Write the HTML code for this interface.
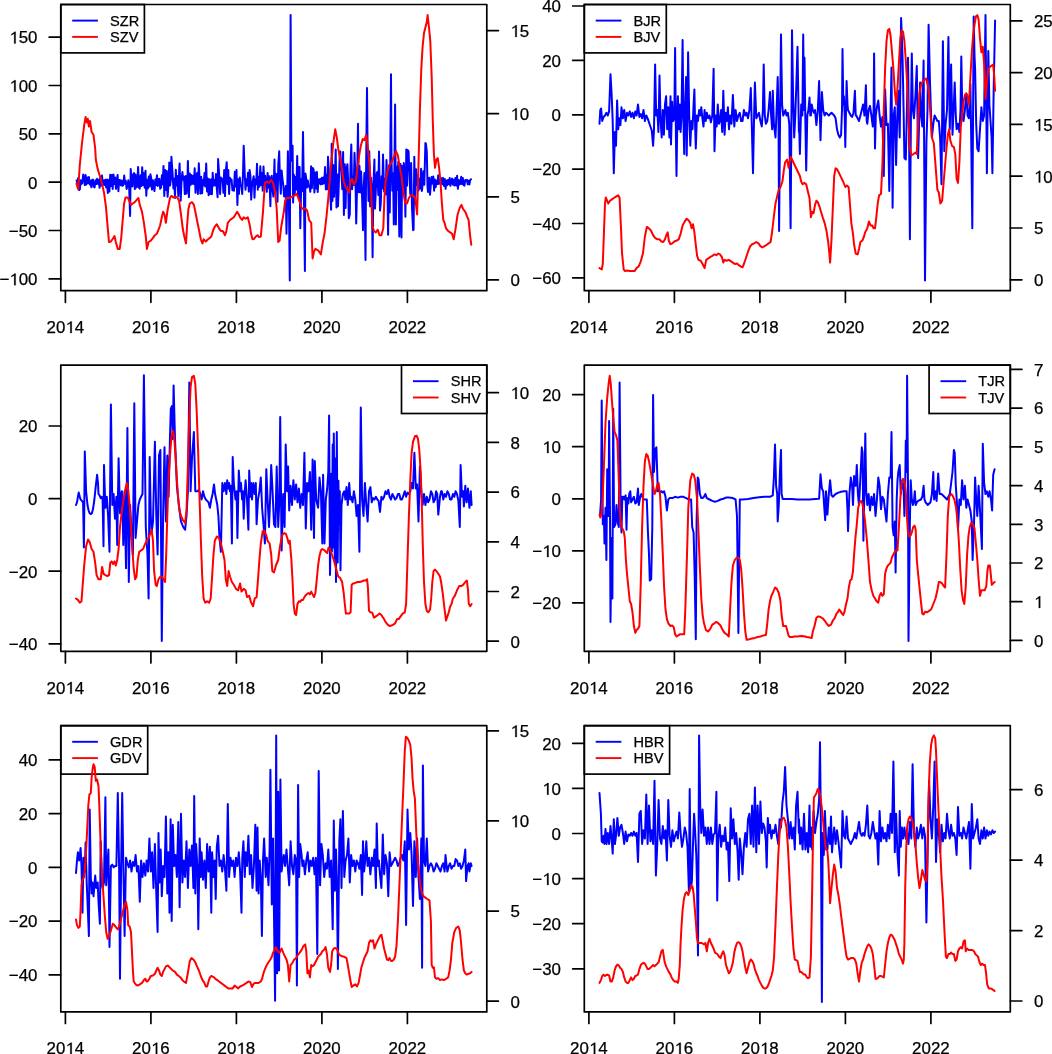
<!DOCTYPE html>
<html><head><meta charset="utf-8"><style>
html,body{margin:0;padding:0;background:#fff;}
body{width:1052px;height:1054px;overflow:hidden;}
svg{display:block;filter:blur(0.3px);font-family:"Liberation Sans",sans-serif;fill:#000;will-change:transform;}
text{fill:#000;stroke:#000;stroke-width:0.25px;}
</style></head><body>
<svg width="1052" height="1054" viewBox="0 0 1052 1054">
<rect width="1052" height="1054" fill="#fff"/>
<g><path d="M76.6,180.4 L77.4,183.9 L78.2,178.0 L79.1,190.1 L79.9,189.1 L80.7,180.3 L81.5,183.9 L82.3,183.1 L83.2,174.5 L84.0,177.3 L84.8,185.1 L85.6,175.0 L86.4,184.5 L87.3,177.4 L88.1,183.1 L88.9,177.1 L89.7,184.5 L90.5,180.8 L91.4,187.3 L92.2,179.9 L93.0,179.6 L93.8,186.8 L94.6,187.4 L95.5,180.3 L96.3,184.1 L97.1,178.8 L97.9,183.8 L98.7,179.7 L99.6,187.8 L100.4,177.1 L101.2,185.6 L102.0,175.5 L102.8,184.7 L103.7,180.5 L104.5,185.0 L105.3,179.7 L106.1,187.5 L106.9,179.6 L107.8,193.0 L108.6,180.1 L109.4,191.6 L110.2,174.7 L111.0,186.0 L111.9,175.0 L112.7,188.9 L113.5,174.4 L114.3,184.0 L115.1,177.5 L116.0,188.8 L116.8,180.8 L117.6,175.1 L118.4,191.2 L119.2,179.9 L120.1,180.2 L120.9,185.3 L121.7,180.4 L122.5,185.8 L123.3,185.0 L124.2,175.5 L125.0,183.8 L125.8,180.8 L126.6,189.0 L127.4,186.4 L128.3,180.3 L129.1,186.0 L130.1,215.9 L130.7,169.1 L131.5,179.9 L132.4,186.4 L133.2,174.2 L134.0,173.0 L134.8,189.1 L135.6,174.6 L136.5,187.5 L137.3,186.4 L138.1,166.9 L138.9,187.5 L139.7,188.6 L140.6,175.2 L141.4,186.0 L142.2,167.3 L143.0,185.0 L143.8,173.0 L144.7,187.7 L145.5,170.7 L146.3,195.8 L147.1,179.8 L147.9,188.4 L148.8,176.6 L149.6,186.6 L150.4,174.3 L151.2,178.1 L152.0,189.6 L152.9,180.2 L153.7,185.9 L154.5,191.0 L155.3,179.5 L156.1,185.2 L157.0,175.2 L157.8,186.0 L158.6,179.4 L159.4,178.8 L160.2,188.8 L161.1,187.5 L161.9,175.3 L162.7,184.3 L163.5,165.9 L164.3,196.0 L165.2,170.0 L166.0,190.0 L166.8,171.1 L167.6,196.8 L168.4,186.1 L169.3,162.4 L170.1,185.4 L170.9,179.2 L171.4,156.8 L172.5,172.9 L173.4,188.5 L174.2,178.8 L175.0,197.9 L175.8,169.7 L176.6,185.6 L177.4,175.9 L178.3,196.1 L179.1,171.5 L179.6,163.6 L180.7,200.7 L181.6,179.4 L182.4,172.0 L183.2,179.8 L184.0,176.6 L184.8,194.1 L185.7,176.1 L186.5,193.6 L187.3,185.9 L187.9,160.9 L188.9,197.1 L189.8,173.5 L190.6,185.0 L191.4,174.9 L192.2,183.8 L193.0,176.0 L193.8,183.9 L194.7,168.3 L195.5,192.7 L196.3,178.6 L197.1,173.0 L197.9,194.0 L198.8,163.2 L199.6,179.2 L200.4,193.6 L201.2,176.8 L202.1,193.3 L202.9,180.0 L203.7,185.2 L204.5,173.1 L205.3,186.5 L206.2,163.5 L207.0,191.5 L207.8,178.5 L208.6,195.3 L209.4,179.3 L210.2,194.0 L211.1,179.4 L211.9,194.2 L212.7,172.8 L213.5,185.7 L214.3,180.1 L215.2,185.4 L216.0,173.9 L216.8,188.5 L217.6,197.2 L218.1,159.0 L219.3,176.9 L220.1,194.0 L220.9,177.4 L221.7,179.4 L222.6,178.8 L223.4,192.8 L224.2,170.0 L225.0,196.1 L225.8,171.2 L226.7,162.3 L227.5,183.9 L228.3,170.0 L229.1,194.0 L229.9,177.8 L230.8,179.4 L231.6,179.6 L232.4,190.2 L233.2,186.7 L234.0,190.8 L234.8,171.8 L235.7,186.5 L236.5,170.0 L237.4,204.9 L238.1,179.2 L238.9,194.0 L239.8,177.6 L240.6,185.8 L241.4,186.0 L242.2,194.0 L243.1,170.3 L243.7,145.8 L244.7,173.4 L245.5,189.7 L246.3,179.2 L247.2,185.4 L248.0,172.8 L248.8,191.6 L249.6,170.0 L250.4,175.7 L251.2,199.6 L252.1,183.9 L252.9,180.2 L253.7,176.2 L254.5,197.8 L255.3,179.5 L256.2,184.3 L257.0,163.7 L257.8,189.7 L258.6,177.3 L259.4,186.8 L260.3,166.2 L261.1,185.0 L261.9,173.0 L262.7,190.7 L263.5,166.4 L264.4,185.1 L265.2,175.8 L266.0,184.2 L266.8,191.8 L267.6,173.0 L268.5,187.7 L269.3,176.2 L270.4,206.3 L270.9,179.9 L271.8,175.7 L272.6,190.7 L273.4,196.6 L274.5,159.5 L275.0,193.4 L275.9,173.7 L276.7,174.3 L277.5,201.8 L278.3,164.8 L279.2,151.3 L279.9,177.3 L280.8,193.7 L281.6,170.4 L282.4,178.6 L283.2,184.5 L284.1,196.3 L284.9,196.7 L285.7,186.0 L286.5,233.8 L287.3,189.2 L287.9,151.3 L289.0,207.3 L289.8,280.5 L290.6,15.1 L291.4,160.7 L292.6,145.8 L293.1,202.6 L293.9,174.8 L294.7,195.3 L295.5,177.0 L296.4,189.5 L297.2,156.1 L298.0,196.1 L298.8,167.0 L299.6,167.1 L300.3,228.3 L301.3,179.1 L302.1,191.2 L303.0,132.0 L303.7,177.7 L304.9,270.9 L305.4,173.4 L306.2,178.4 L307.0,187.5 L307.8,180.6 L308.6,186.5 L309.5,185.7 L310.3,191.8 L311.1,166.2 L311.9,188.2 L312.8,168.0 L313.6,169.6 L314.4,192.4 L315.2,172.6 L316.0,188.4 L316.9,171.9 L317.7,191.9 L318.5,179.6 L319.3,183.6 L320.1,179.0 L320.9,184.4 L321.8,177.8 L322.6,184.1 L323.4,177.4 L324.2,183.3 L325.1,166.9 L325.9,189.4 L326.7,174.7 L327.5,189.2 L328.0,156.8 L329.1,174.9 L330.0,190.4 L331.1,209.7 L331.7,143.7 L332.4,201.0 L333.2,165.0 L334.1,196.8 L334.9,177.6 L335.7,149.4 L336.5,207.4 L337.4,174.5 L338.0,206.3 L339.0,179.0 L339.8,152.4 L340.3,151.6 L341.4,171.3 L342.3,189.3 L343.1,152.0 L343.9,215.1 L344.8,164.2 L345.6,208.1 L346.4,170.4 L347.4,164.2 L348.0,177.4 L348.8,218.3 L349.8,214.5 L350.5,166.4 L351.3,144.4 L352.1,189.3 L352.9,176.6 L353.8,185.1 L354.5,152.8 L355.4,174.1 L356.2,223.4 L357.0,190.1 L358.0,123.8 L358.7,192.2 L359.5,166.1 L360.3,192.4 L361.1,171.4 L361.9,190.7 L363.0,230.2 L363.6,191.1 L364.4,172.9 L365.5,260.0 L366.1,167.8 L367.0,88.0 L367.7,161.8 L368.5,201.0 L369.3,151.2 L370.1,206.5 L371.0,177.7 L371.8,189.8 L372.6,257.2 L373.4,185.1 L374.4,159.6 L375.0,208.6 L375.9,188.7 L376.7,173.5 L377.5,171.8 L378.3,195.0 L379.0,151.6 L380.0,210.6 L380.8,203.3 L381.6,176.3 L382.4,188.2 L383.0,154.5 L384.1,191.4 L384.9,178.9 L385.7,194.4 L386.5,160.0 L387.4,184.9 L388.1,234.8 L389.0,165.3 L389.8,212.5 L391.0,74.3 L391.5,160.0 L392.3,190.7 L393.1,173.6 L393.8,224.5 L395.1,104.5 L395.9,224.5 L396.4,166.5 L397.2,190.1 L398.3,161.9 L398.8,201.3 L399.3,236.5 L400.5,164.0 L401.5,237.6 L402.1,165.9 L402.9,192.5 L403.8,163.0 L404.6,174.6 L405.4,216.8 L406.3,149.4 L407.0,185.8 L407.5,149.9 L408.6,151.6 L409.5,178.3 L410.3,194.3 L411.1,163.0 L412.0,207.7 L413.1,230.2 L413.6,229.6 L414.3,156.8 L415.2,203.3 L416.1,169.2 L416.9,185.1 L417.7,175.6 L418.5,190.5 L419.3,178.8 L420.2,188.5 L421.1,168.7 L421.8,191.0 L422.3,188.1 L423.4,171.3 L424.3,184.7 L425.4,143.0 L425.9,143.7 L426.8,151.6 L427.5,186.8 L428.0,192.0 L429.2,177.8 L430.0,194.7 L430.8,184.9 L431.6,176.9 L432.5,183.6 L433.3,176.5 L434.1,190.7 L434.9,179.4 L435.7,187.2 L436.6,180.7 L437.4,184.1 L438.2,175.3 L439.0,183.9 L439.8,179.8 L440.7,183.1 L441.5,178.2 L442.3,184.2 L443.1,178.1 L443.9,185.8 L444.8,179.1 L445.6,188.8 L446.4,180.6 L447.2,185.2 L448.0,179.9 L448.9,184.3 L449.7,177.9 L450.5,185.8 L451.3,180.4 L452.1,178.6 L453.0,184.7 L453.8,179.7 L454.6,185.5 L455.4,177.9 L456.2,185.4 L457.1,175.8 L457.9,188.8 L458.7,180.0 L459.5,184.4 L460.3,183.7 L461.2,176.8 L462.0,184.1 L462.8,177.9 L463.6,185.0 L464.4,185.6 L465.3,179.9 L466.1,180.8 L466.9,179.8 L467.7,184.2 L468.5,180.8 L469.4,184.6 L470.2,179.9 L471.0,179.2" fill="none" stroke="#0000ff" stroke-width="2.0" stroke-linejoin="round" stroke-linecap="round"/><rect x="60.8" y="4.5" width="83.6" height="48.4" fill="#fff" stroke="#000" stroke-width="1.7"/><line x1="72.2" y1="20.6" x2="97.9" y2="20.6" stroke="#0000ff" stroke-width="1.9"/><text x="110.0" y="25.6" font-size="14.6">SZR</text><line x1="72.2" y1="36.9" x2="97.9" y2="36.9" stroke="#ff0000" stroke-width="1.9"/><text x="110.0" y="41.9" font-size="14.6">SZV</text><path d="M76.5,183.7 L78.2,189.2 L79.8,165.0 L82.0,143.0 L84.2,125.1 L85.6,116.9 L86.7,122.4 L87.8,118.8 L88.9,126.5 L90.0,121.0 L91.6,132.0 L93.5,134.8 L95.2,148.5 L95.8,159.5 L97.7,169.1 L99.9,176.0 L101.8,182.9 L104.0,192.5 L105.9,206.3 L107.3,222.8 L109.0,242.0 L110.9,241.5 L112.8,238.7 L114.5,236.0 L115.8,242.0 L117.8,248.9 L119.7,248.9 L121.1,239.3 L122.7,220.0 L124.1,203.5 L125.5,197.5 L127.7,197.5 L129.3,200.8 L131.0,204.9 L132.6,203.5 L134.8,202.2 L136.5,200.2 L138.4,198.0 L139.8,204.9 L142.0,211.8 L143.9,222.8 L145.8,236.5 L146.9,248.9 L148.6,242.0 L150.8,240.7 L153.0,237.9 L154.9,235.2 L156.8,233.8 L158.5,229.7 L160.1,225.5 L161.8,217.3 L163.1,211.8 L164.5,214.5 L165.9,222.8 L167.3,211.8 L168.6,204.9 L170.0,198.0 L171.4,195.8 L173.3,197.5 L175.5,196.6 L177.7,198.0 L179.1,200.8 L181.0,214.5 L182.7,228.3 L184.3,236.5 L186.0,243.4 L187.1,225.5 L188.4,209.0 L189.8,203.5 L192.0,202.2 L193.9,204.9 L195.9,214.5 L197.5,222.8 L199.2,231.0 L200.8,239.3 L202.5,243.4 L203.6,239.3 L205.8,241.5 L208.0,239.3 L209.9,237.9 L211.3,236.5 L212.9,231.0 L214.6,226.9 L216.8,224.2 L219.0,228.3 L220.9,231.0 L222.8,231.0 L225.0,235.2 L226.4,231.0 L227.8,222.8 L230.0,220.0 L231.9,218.7 L233.8,217.3 L235.5,214.5 L237.1,211.8 L238.8,214.5 L240.1,217.3 L242.1,220.0 L243.7,217.3 L245.6,218.7 L247.8,217.3 L249.8,225.5 L251.1,233.8 L252.5,239.3 L254.2,238.7 L255.8,236.5 L257.5,235.2 L259.1,237.1 L260.8,236.5 L263.0,211.8 L264.9,182.9 L266.8,181.5 L269.0,182.9 L271.2,180.1 L273.1,182.9 L275.1,192.5 L276.7,209.0 L278.2,242.0 L279.6,240.7 L281.0,228.3 L282.4,220.0 L283.8,211.8 L285.1,200.8 L286.5,198.0 L289.2,198.0 L292.0,196.6 L294.8,195.3 L296.7,193.9 L298.3,198.0 L300.2,203.5 L301.6,207.7 L303.0,209.0 L305.2,208.5 L307.1,210.4 L309.1,220.0 L311.2,222.8 L312.6,258.5 L314.0,251.7 L315.4,248.9 L318.1,250.3 L320.9,254.4 L322.8,242.0 L324.5,233.8 L326.4,217.3 L328.3,198.0 L330.0,176.0 L331.9,156.8 L333.3,143.0 L335.2,129.3 L336.8,137.5 L338.2,148.5 L339.3,154.0 L341.0,162.3 L342.1,170.5 L343.7,181.5 L345.6,187.0 L347.6,189.8 L349.2,192.5 L350.3,181.5 L352.0,178.8 L353.9,184.3 L355.8,181.5 L357.5,167.8 L359.4,154.0 L360.8,145.8 L362.7,138.9 L364.3,140.3 L366.3,134.8 L367.9,148.5 L369.6,165.0 L371.2,192.5 L372.3,225.5 L374.0,231.0 L375.9,232.4 L377.8,229.7 L379.5,235.2 L381.4,235.2 L383.3,228.3 L384.4,198.0 L385.5,181.5 L387.7,170.5 L389.6,165.0 L391.6,162.3 L393.8,156.8 L396.0,151.3 L397.9,155.4 L399.3,165.0 L401.5,176.0 L403.4,192.5 L405.3,203.5 L407.0,203.5 L408.9,198.0 L410.8,195.3 L413.0,195.3 L415.2,198.0 L417.1,214.5 L418.5,165.0 L419.9,110.0 L421.3,68.8 L422.6,46.8 L424.0,33.0 L425.4,27.5 L426.8,22.0 L427.6,15.1 L429.0,27.5 L430.3,41.2 L431.7,77.0 L432.8,121.0 L433.9,154.0 L435.0,167.8 L436.4,159.5 L437.8,158.1 L439.1,167.8 L440.5,181.5 L441.9,203.5 L443.3,220.0 L444.6,222.8 L446.0,228.3 L448.2,231.0 L450.1,232.4 L452.1,233.8 L453.7,239.3 L455.6,228.3 L457.6,214.5 L459.8,207.7 L461.4,204.9 L463.1,209.0 L465.3,211.8 L467.5,217.3 L468.6,220.0 L470.2,236.5 L471.3,244.8" fill="none" stroke="#ff0000" stroke-width="2.0" stroke-linejoin="round" stroke-linecap="round"/><rect x="60.8" y="4.5" width="426.0" height="286.2" fill="none" stroke="#000" stroke-width="1.7" stroke-linejoin="round"/><line x1="65.4" y1="290.7" x2="65.4" y2="302.3" stroke="#000" stroke-width="1.7" stroke-linecap="round"/><text x="46.60" y="333.10" font-size="16.9">20 4</text><path d="M0.288,0 L0.376,0 L0.376,-0.688 L0.308,-0.688 L0.273,-0.649 L0.122,-0.552 L0.122,-0.481 L0.288,-0.581 Z" transform="translate(65.40,333.10) scale(16.9)" fill="#000" stroke="#000" stroke-width="0.0148"/><line x1="150.9" y1="290.7" x2="150.9" y2="302.3" stroke="#000" stroke-width="1.7" stroke-linecap="round"/><text x="132.10" y="333.10" font-size="16.9">20 6</text><path d="M0.288,0 L0.376,0 L0.376,-0.688 L0.308,-0.688 L0.273,-0.649 L0.122,-0.552 L0.122,-0.481 L0.288,-0.581 Z" transform="translate(150.90,333.10) scale(16.9)" fill="#000" stroke="#000" stroke-width="0.0148"/><line x1="236.4" y1="290.7" x2="236.4" y2="302.3" stroke="#000" stroke-width="1.7" stroke-linecap="round"/><text x="217.60" y="333.10" font-size="16.9">20 8</text><path d="M0.288,0 L0.376,0 L0.376,-0.688 L0.308,-0.688 L0.273,-0.649 L0.122,-0.552 L0.122,-0.481 L0.288,-0.581 Z" transform="translate(236.40,333.10) scale(16.9)" fill="#000" stroke="#000" stroke-width="0.0148"/><line x1="321.9" y1="290.7" x2="321.9" y2="302.3" stroke="#000" stroke-width="1.7" stroke-linecap="round"/><text x="303.10" y="333.10" font-size="16.9">2020</text><line x1="407.4" y1="290.7" x2="407.4" y2="302.3" stroke="#000" stroke-width="1.7" stroke-linecap="round"/><text x="388.60" y="333.10" font-size="16.9">2022</text><line x1="49.2" y1="278.9" x2="60.8" y2="278.9" stroke="#000" stroke-width="1.7" stroke-linecap="round"/><text x="-0.57" y="285.20" font-size="16.9">− 00</text><path d="M0.288,0 L0.376,0 L0.376,-0.688 L0.308,-0.688 L0.273,-0.649 L0.122,-0.552 L0.122,-0.481 L0.288,-0.581 Z" transform="translate(9.30,285.20) scale(16.9)" fill="#000" stroke="#000" stroke-width="0.0148"/><line x1="49.2" y1="230.5" x2="60.8" y2="230.5" stroke="#000" stroke-width="1.7" stroke-linecap="round"/><text x="8.83" y="236.85" font-size="16.9">−50</text><line x1="49.2" y1="182.2" x2="60.8" y2="182.2" stroke="#000" stroke-width="1.7" stroke-linecap="round"/><text x="28.10" y="188.50" font-size="16.9">0</text><line x1="49.2" y1="133.8" x2="60.8" y2="133.8" stroke="#000" stroke-width="1.7" stroke-linecap="round"/><text x="18.70" y="140.15" font-size="16.9">50</text><line x1="49.2" y1="85.5" x2="60.8" y2="85.5" stroke="#000" stroke-width="1.7" stroke-linecap="round"/><text x="9.30" y="91.80" font-size="16.9"> 00</text><path d="M0.288,0 L0.376,0 L0.376,-0.688 L0.308,-0.688 L0.273,-0.649 L0.122,-0.552 L0.122,-0.481 L0.288,-0.581 Z" transform="translate(9.30,91.80) scale(16.9)" fill="#000" stroke="#000" stroke-width="0.0148"/><line x1="49.2" y1="37.2" x2="60.8" y2="37.2" stroke="#000" stroke-width="1.7" stroke-linecap="round"/><text x="9.30" y="43.45" font-size="16.9"> 50</text><path d="M0.288,0 L0.376,0 L0.376,-0.688 L0.308,-0.688 L0.273,-0.649 L0.122,-0.552 L0.122,-0.481 L0.288,-0.581 Z" transform="translate(9.30,43.45) scale(16.9)" fill="#000" stroke="#000" stroke-width="0.0148"/><line x1="486.8" y1="279.9" x2="498.4" y2="279.9" stroke="#000" stroke-width="1.7" stroke-linecap="round"/><text x="510.40" y="286.20" font-size="16.9">0</text><line x1="486.8" y1="196.8" x2="498.4" y2="196.8" stroke="#000" stroke-width="1.7" stroke-linecap="round"/><text x="510.40" y="203.10" font-size="16.9">5</text><line x1="486.8" y1="113.7" x2="498.4" y2="113.7" stroke="#000" stroke-width="1.7" stroke-linecap="round"/><text x="510.40" y="120.00" font-size="16.9"> 0</text><path d="M0.288,0 L0.376,0 L0.376,-0.688 L0.308,-0.688 L0.273,-0.649 L0.122,-0.552 L0.122,-0.481 L0.288,-0.581 Z" transform="translate(510.40,120.00) scale(16.9)" fill="#000" stroke="#000" stroke-width="0.0148"/><line x1="486.8" y1="30.6" x2="498.4" y2="30.6" stroke="#000" stroke-width="1.7" stroke-linecap="round"/><text x="510.40" y="36.90" font-size="16.9"> 5</text><path d="M0.288,0 L0.376,0 L0.376,-0.688 L0.308,-0.688 L0.273,-0.649 L0.122,-0.552 L0.122,-0.481 L0.288,-0.581 Z" transform="translate(510.40,36.90) scale(16.9)" fill="#000" stroke="#000" stroke-width="0.0148"/></g>
<g><path d="M599.5,123.8 L600.3,110.0 L601.1,108.6 L602.2,121.0 L603.6,116.9 L605.0,115.5 L606.4,112.8 L607.8,115.5 L609.1,111.4 L610.5,74.3 L611.6,93.5 L612.7,121.0 L613.8,173.3 L614.9,132.0 L616.0,145.8 L617.1,100.4 L618.2,129.3 L619.3,118.3 L620.4,125.1 L621.5,107.3 L622.9,118.3 L624.2,110.0 L625.6,121.0 L627.0,112.8 L628.4,115.5 L629.8,111.4 L631.1,116.9 L632.5,112.8 L633.9,118.3 L635.3,111.4 L636.6,115.5 L638.0,104.5 L639.4,116.9 L640.8,114.1 L642.1,118.3 L643.5,110.0 L644.9,121.0 L646.3,115.5 L647.6,118.3 L649.0,122.4 L650.4,126.5 L651.8,130.6 L653.1,145.8 L654.0,129.3 L655.1,64.6 L656.2,115.5 L657.3,110.0 L658.4,132.0 L659.5,75.6 L660.6,121.0 L661.7,137.5 L662.8,110.0 L663.9,134.8 L665.0,104.5 L666.1,96.3 L667.2,129.3 L668.3,107.3 L669.4,137.5 L670.5,96.3 L671.0,144.4 L672.1,101.8 L673.2,121.0 L674.3,118.3 L675.1,48.1 L676.0,143.0 L676.5,176.0 L677.3,121.0 L677.9,96.3 L678.7,129.3 L679.8,104.5 L680.6,132.0 L681.5,115.5 L682.6,39.9 L683.4,118.3 L684.2,154.0 L685.0,110.0 L686.1,77.0 L686.7,155.4 L687.5,110.0 L688.1,52.3 L689.2,115.5 L690.3,145.8 L691.4,121.0 L692.5,129.3 L693.6,104.5 L694.4,89.4 L695.2,129.3 L695.8,148.5 L696.9,115.5 L698.0,121.0 L699.1,110.0 L700.2,115.5 L701.3,107.3 L702.4,118.3 L703.5,126.5 L704.6,110.0 L705.7,121.0 L706.8,112.8 L708.1,118.3 L709.5,115.5 L710.9,122.4 L712.3,115.5 L713.6,68.8 L714.5,151.3 L715.6,115.5 L716.7,126.5 L717.8,104.5 L718.9,123.8 L720.0,121.0 L721.1,110.0 L722.2,132.0 L723.3,90.8 L724.6,134.8 L725.7,112.8 L726.8,121.0 L727.9,107.3 L729.0,129.3 L730.1,115.5 L731.5,123.8 L732.9,94.9 L734.3,126.5 L735.6,110.0 L737.0,121.0 L738.4,115.5 L739.8,112.8 L741.1,121.0 L742.5,121.0 L743.9,110.0 L745.3,115.5 L746.6,112.8 L748.0,118.3 L749.4,110.0 L750.8,88.0 L751.9,129.3 L753.0,173.3 L754.1,115.5 L754.9,82.5 L756.3,118.3 L757.6,115.5 L759.0,112.8 L760.4,121.0 L761.8,126.5 L762.9,110.0 L763.7,64.6 L764.8,115.5 L765.9,123.8 L767.3,121.0 L768.6,110.0 L770.0,92.1 L771.1,115.5 L772.2,129.3 L772.8,90.8 L773.9,123.8 L775.5,137.5 L776.6,110.0 L777.7,77.0 L778.5,115.5 L779.1,231.0 L779.9,137.5 L781.0,34.4 L782.1,104.5 L783.2,115.5 L784.3,112.8 L785.4,110.0 L786.5,115.5 L787.9,112.8 L789.3,123.8 L790.6,228.3 L791.5,110.0 L792.0,30.2 L793.1,96.3 L794.2,137.5 L795.3,115.5 L796.4,82.5 L797.5,46.8 L798.9,132.0 L799.3,132.0 L799.9,154.0 L801.2,104.5 L802.4,115.5 L803.2,34.4 L804.0,110.0 L804.5,57.8 L805.4,123.8 L806.2,170.5 L807.3,115.5 L808.4,110.0 L809.5,97.6 L810.3,115.5 L810.9,115.5 L811.7,104.5 L812.8,110.0 L813.9,112.8 L815.0,110.0 L816.4,125.1 L817.8,110.0 L819.1,81.1 L820.5,140.3 L821.3,115.5 L821.9,92.1 L823.2,110.0 L824.6,115.5 L826.0,112.8 L827.4,114.1 L828.8,115.5 L830.1,114.1 L831.5,112.8 L832.9,114.1 L834.2,115.5 L835.6,118.3 L837.0,129.3 L838.4,134.8 L839.8,137.5 L841.1,134.8 L842.0,110.0 L842.5,49.0 L843.3,104.5 L843.9,96.3 L844.7,115.5 L845.3,147.1 L846.1,104.5 L846.6,81.1 L847.5,104.5 L848.0,110.0 L849.4,112.8 L850.8,115.5 L852.1,116.9 L853.5,112.8 L854.9,90.8 L855.7,115.5 L856.3,115.5 L857.6,118.3 L859.0,121.0 L860.4,115.5 L861.8,110.0 L863.1,104.5 L864.5,115.5 L865.9,85.3 L866.7,121.0 L867.3,123.8 L868.6,110.0 L870.0,105.9 L871.4,115.5 L872.8,126.5 L873.6,110.0 L874.1,53.6 L875.0,148.5 L875.8,115.5 L876.9,107.3 L878.3,100.4 L879.6,115.5 L881.0,126.5 L882.4,116.9 L883.8,176.0 L885.1,89.4 L886.5,125.1 L887.9,123.8 L889.3,191.1 L890.6,110.0 L891.5,67.4 L892.6,207.7 L893.7,115.5 L894.8,107.3 L896.1,165.0 L897.2,118.3 L898.3,90.8 L899.7,137.5 L901.1,17.9 L902.5,55.0 L903.6,110.0 L904.4,158.1 L905.8,159.5 L906.9,110.0 L908.0,57.8 L909.1,137.5 L909.9,239.3 L911.0,110.0 L911.8,53.6 L912.9,110.0 L914.0,118.3 L915.4,96.3 L916.8,66.0 L918.1,158.1 L919.5,110.0 L920.1,82.5 L921.2,115.5 L922.3,126.5 L923.6,60.5 L925.0,280.5 L926.4,143.0 L927.5,110.0 L928.6,24.8 L930.0,82.5 L931.1,115.5 L931.9,137.5 L933.3,123.8 L934.6,115.5 L936.0,118.3 L937.4,121.0 L938.8,121.0 L940.1,137.5 L941.5,184.3 L942.9,41.2 L944.3,151.3 L945.6,123.8 L947.0,110.0 L948.4,37.1 L949.8,129.3 L951.1,64.6 L952.5,134.8 L953.6,110.0 L954.7,82.5 L955.8,115.5 L956.6,129.3 L958.0,123.8 L959.4,132.0 L960.5,110.0 L961.3,56.4 L962.4,115.5 L963.5,121.0 L964.9,110.0 L966.3,93.5 L967.6,115.5 L969.0,118.3 L970.4,83.9 L971.2,137.5 L972.3,228.3 L973.7,16.5 L974.5,55.0 L975.1,68.8 L976.2,123.8 L977.3,148.5 L978.6,151.3 L980.0,129.3 L981.4,107.3 L982.8,121.0 L984.1,115.5 L985.5,15.1 L986.9,173.3 L988.3,50.9 L989.4,104.5 L990.5,121.0 L991.6,137.5 L992.4,173.3 L993.8,82.5 L995.1,20.6" fill="none" stroke="#0000ff" stroke-width="2.0" stroke-linejoin="round" stroke-linecap="round"/><rect x="584.3" y="4.5" width="82.0" height="48.4" fill="#fff" stroke="#000" stroke-width="1.7"/><line x1="595.7" y1="20.6" x2="621.4" y2="20.6" stroke="#0000ff" stroke-width="1.9"/><text x="633.5" y="25.6" font-size="14.6">BJR</text><line x1="595.7" y1="36.9" x2="621.4" y2="36.9" stroke="#ff0000" stroke-width="1.9"/><text x="633.5" y="41.9" font-size="14.6">BJV</text><path d="M599.5,268.1 L601.7,269.5 L602.8,264.0 L603.9,233.8 L605.0,203.5 L605.8,197.5 L607.2,200.8 L608.3,203.5 L610.0,200.8 L611.9,199.4 L613.8,198.0 L616.0,196.6 L618.2,195.3 L619.6,198.0 L621.0,228.3 L622.0,253.0 L623.7,269.5 L624.8,270.9 L627.0,270.4 L629.8,270.9 L632.5,270.9 L634.7,270.9 L636.6,268.1 L638.8,266.2 L640.8,261.3 L643.0,253.0 L644.9,236.5 L646.8,226.9 L649.0,228.3 L651.2,231.0 L653.1,235.2 L655.1,237.9 L657.3,239.3 L659.5,239.3 L661.4,241.5 L663.3,242.0 L665.0,239.3 L666.3,235.2 L667.7,232.4 L668.8,240.7 L670.5,244.2 L672.4,243.4 L674.3,241.5 L676.5,240.7 L678.7,239.3 L680.6,233.8 L682.6,225.5 L684.8,221.4 L686.7,218.7 L688.3,220.0 L690.3,222.8 L691.6,228.3 L693.0,224.2 L694.4,232.4 L695.8,244.8 L697.1,255.8 L698.5,259.9 L700.7,260.7 L702.6,264.0 L704.6,268.1 L706.2,259.9 L708.1,258.5 L710.1,257.1 L712.3,255.8 L714.5,254.4 L716.4,255.2 L718.3,253.6 L720.0,254.4 L721.9,257.1 L723.3,262.6 L724.6,259.9 L726.6,260.7 L728.8,259.9 L731.0,261.3 L732.9,262.6 L734.8,264.0 L737.0,263.5 L739.2,265.4 L741.1,266.8 L742.5,267.3 L743.9,264.0 L745.8,258.5 L748.0,251.7 L750.2,246.2 L752.1,244.2 L754.1,243.4 L756.3,242.0 L758.5,243.4 L760.4,246.2 L762.3,247.5 L764.5,246.2 L766.7,244.8 L768.6,243.4 L770.6,242.0 L772.2,231.0 L774.1,214.5 L775.5,203.5 L777.4,195.3 L778.8,189.8 L780.5,187.0 L782.4,181.5 L783.8,170.5 L785.1,162.3 L787.1,159.5 L788.7,167.8 L790.6,156.8 L792.0,159.5 L799.9,176.0 L801.2,181.5 L802.6,184.3 L804.5,182.9 L806.2,184.3 L808.1,192.5 L809.5,198.0 L810.9,217.3 L812.2,211.8 L813.6,213.2 L815.0,204.9 L816.4,200.8 L817.8,202.2 L819.4,206.3 L821.0,211.8 L822.7,217.3 L824.6,222.8 L826.5,231.0 L828.2,242.0 L829.3,253.0 L830.1,262.6 L831.5,239.3 L832.9,206.3 L834.2,176.0 L835.6,168.3 L837.0,169.1 L839.2,173.3 L841.1,177.4 L843.1,181.5 L845.3,187.0 L846.9,185.6 L848.6,187.0 L849.9,203.5 L851.3,222.8 L853.0,233.8 L854.1,244.8 L855.7,253.6 L857.6,254.4 L859.0,248.9 L860.4,242.0 L862.3,240.7 L864.0,236.5 L865.1,232.4 L867.3,228.3 L868.9,221.4 L870.6,225.5 L872.2,225.5 L873.6,228.3 L875.0,228.3 L876.3,217.3 L877.7,203.5 L879.1,195.3 L881.0,193.9 L882.4,165.0 L883.8,110.0 L885.1,68.8 L886.5,41.2 L887.9,30.2 L889.3,28.9 L890.6,35.8 L892.0,52.3 L893.4,68.8 L894.8,90.8 L896.1,104.5 L897.5,88.0 L898.9,63.3 L900.3,38.5 L901.6,30.2 L903.0,31.6 L904.4,41.2 L905.8,60.5 L907.1,82.5 L908.5,121.0 L909.9,148.5 L911.3,155.4 L913.5,154.0 L915.4,152.6 L916.8,154.0 L918.1,121.0 L919.5,93.5 L920.9,85.3 L922.8,81.1 L924.5,79.8 L926.1,78.4 L927.8,85.3 L929.1,96.3 L930.5,115.5 L931.9,137.5 L933.8,143.0 L935.5,165.0 L937.4,189.8 L938.8,192.5 L940.4,203.5 L942.1,200.8 L943.7,181.5 L945.1,165.0 L946.5,148.5 L947.8,134.8 L949.2,129.3 L950.3,140.3 L952.0,145.8 L953.9,147.1 L955.3,154.0 L956.6,178.8 L958.0,182.9 L959.4,162.3 L960.8,126.5 L962.1,115.5 L963.5,101.8 L964.9,94.9 L966.3,93.5 L967.6,96.3 L969.0,104.5 L970.4,77.0 L971.8,52.3 L973.1,35.8 L974.5,24.8 L975.9,16.5 L977.3,15.1 L978.6,19.2 L980.0,38.5 L981.4,52.3 L982.8,46.8 L984.1,63.3 L985.5,99.0 L986.9,82.5 L988.3,68.8 L989.6,67.4 L991.0,66.0 L993.2,64.6 L994.3,77.0 L995.1,90.8" fill="none" stroke="#ff0000" stroke-width="2.0" stroke-linejoin="round" stroke-linecap="round"/><rect x="584.3" y="4.5" width="426.0" height="286.2" fill="none" stroke="#000" stroke-width="1.7" stroke-linejoin="round"/><line x1="588.9" y1="290.7" x2="588.9" y2="302.3" stroke="#000" stroke-width="1.7" stroke-linecap="round"/><text x="570.10" y="333.10" font-size="16.9">20 4</text><path d="M0.288,0 L0.376,0 L0.376,-0.688 L0.308,-0.688 L0.273,-0.649 L0.122,-0.552 L0.122,-0.481 L0.288,-0.581 Z" transform="translate(588.90,333.10) scale(16.9)" fill="#000" stroke="#000" stroke-width="0.0148"/><line x1="674.4" y1="290.7" x2="674.4" y2="302.3" stroke="#000" stroke-width="1.7" stroke-linecap="round"/><text x="655.60" y="333.10" font-size="16.9">20 6</text><path d="M0.288,0 L0.376,0 L0.376,-0.688 L0.308,-0.688 L0.273,-0.649 L0.122,-0.552 L0.122,-0.481 L0.288,-0.581 Z" transform="translate(674.40,333.10) scale(16.9)" fill="#000" stroke="#000" stroke-width="0.0148"/><line x1="759.9" y1="290.7" x2="759.9" y2="302.3" stroke="#000" stroke-width="1.7" stroke-linecap="round"/><text x="741.10" y="333.10" font-size="16.9">20 8</text><path d="M0.288,0 L0.376,0 L0.376,-0.688 L0.308,-0.688 L0.273,-0.649 L0.122,-0.552 L0.122,-0.481 L0.288,-0.581 Z" transform="translate(759.90,333.10) scale(16.9)" fill="#000" stroke="#000" stroke-width="0.0148"/><line x1="845.4" y1="290.7" x2="845.4" y2="302.3" stroke="#000" stroke-width="1.7" stroke-linecap="round"/><text x="826.60" y="333.10" font-size="16.9">2020</text><line x1="930.9" y1="290.7" x2="930.9" y2="302.3" stroke="#000" stroke-width="1.7" stroke-linecap="round"/><text x="912.10" y="333.10" font-size="16.9">2022</text><line x1="572.7" y1="277.8" x2="584.3" y2="277.8" stroke="#000" stroke-width="1.7" stroke-linecap="round"/><text x="532.33" y="284.13" font-size="16.9">−60</text><line x1="572.7" y1="223.5" x2="584.3" y2="223.5" stroke="#000" stroke-width="1.7" stroke-linecap="round"/><text x="532.33" y="229.77" font-size="16.9">−40</text><line x1="572.7" y1="169.1" x2="584.3" y2="169.1" stroke="#000" stroke-width="1.7" stroke-linecap="round"/><text x="532.33" y="175.41" font-size="16.9">−20</text><line x1="572.7" y1="114.8" x2="584.3" y2="114.8" stroke="#000" stroke-width="1.7" stroke-linecap="round"/><text x="551.60" y="121.05" font-size="16.9">0</text><line x1="572.7" y1="60.4" x2="584.3" y2="60.4" stroke="#000" stroke-width="1.7" stroke-linecap="round"/><text x="542.20" y="66.69" font-size="16.9">20</text><line x1="572.7" y1="6.0" x2="584.3" y2="6.0" stroke="#000" stroke-width="1.7" stroke-linecap="round"/><text x="542.20" y="12.33" font-size="16.9">40</text><line x1="1010.3" y1="279.8" x2="1021.9" y2="279.8" stroke="#000" stroke-width="1.7" stroke-linecap="round"/><text x="1033.90" y="286.10" font-size="16.9">0</text><line x1="1010.3" y1="228.0" x2="1021.9" y2="228.0" stroke="#000" stroke-width="1.7" stroke-linecap="round"/><text x="1033.90" y="234.30" font-size="16.9">5</text><line x1="1010.3" y1="176.2" x2="1021.9" y2="176.2" stroke="#000" stroke-width="1.7" stroke-linecap="round"/><text x="1033.90" y="182.50" font-size="16.9"> 0</text><path d="M0.288,0 L0.376,0 L0.376,-0.688 L0.308,-0.688 L0.273,-0.649 L0.122,-0.552 L0.122,-0.481 L0.288,-0.581 Z" transform="translate(1033.90,182.50) scale(16.9)" fill="#000" stroke="#000" stroke-width="0.0148"/><line x1="1010.3" y1="124.4" x2="1021.9" y2="124.4" stroke="#000" stroke-width="1.7" stroke-linecap="round"/><text x="1033.90" y="130.70" font-size="16.9"> 5</text><path d="M0.288,0 L0.376,0 L0.376,-0.688 L0.308,-0.688 L0.273,-0.649 L0.122,-0.552 L0.122,-0.481 L0.288,-0.581 Z" transform="translate(1033.90,130.70) scale(16.9)" fill="#000" stroke="#000" stroke-width="0.0148"/><line x1="1010.3" y1="72.6" x2="1021.9" y2="72.6" stroke="#000" stroke-width="1.7" stroke-linecap="round"/><text x="1033.90" y="78.90" font-size="16.9">20</text><line x1="1010.3" y1="20.8" x2="1021.9" y2="20.8" stroke="#000" stroke-width="1.7" stroke-linecap="round"/><text x="1033.90" y="27.10" font-size="16.9">25</text></g>
<g><path d="M76.0,505.0 L77.0,502.3 L77.9,496.8 L78.7,492.6 L79.8,496.8 L80.6,499.5 L82.0,500.9 L83.1,502.3 L83.9,547.6 L84.8,451.4 L86.1,491.3 L87.5,505.0 L88.6,510.5 L89.7,513.3 L90.8,514.1 L91.9,513.3 L93.0,509.1 L94.4,499.5 L95.8,485.8 L97.1,474.8 L98.0,483.0 L98.5,494.0 L99.6,495.4 L100.7,498.1 L101.8,496.8 L102.6,499.5 L103.5,546.3 L104.0,465.1 L104.8,491.3 L105.4,507.8 L106.8,496.8 L108.1,516.0 L109.5,551.8 L110.9,404.6 L112.3,505.0 L113.6,494.0 L115.0,518.8 L116.4,496.8 L117.2,544.9 L118.6,458.3 L120.0,513.3 L121.1,494.0 L121.9,491.3 L122.7,516.0 L123.3,544.9 L124.6,491.3 L126.0,568.3 L127.4,428.0 L128.8,582.0 L130.1,505.0 L131.5,532.5 L132.9,554.5 L134.3,403.2 L135.6,538.0 L137.0,521.5 L138.4,505.0 L139.8,499.5 L141.1,496.8 L142.5,494.0 L143.9,375.2 L145.8,527.0 L147.5,554.5 L148.6,598.5 L149.7,456.9 L150.8,516.0 L151.6,532.5 L153.0,521.5 L154.9,441.8 L156.3,516.0 L157.6,554.5 L159.0,455.5 L160.4,450.0 L161.8,641.1 L163.1,516.0 L164.5,447.3 L165.9,521.5 L167.3,455.5 L168.6,496.8 L170.0,436.3 L170.8,408.8 L171.9,406.0 L172.8,439.0 L173.6,385.4 L175.0,439.0 L176.9,485.8 L178.8,505.0 L181.0,521.5 L183.2,527.0 L185.1,529.8 L186.5,516.0 L187.9,491.3 L189.3,382.6 L190.6,491.3 L192.0,458.3 L193.9,432.1 L195.3,491.3 L197.5,491.3 L198.9,489.9 L200.3,494.0 L201.6,499.5 L203.0,491.3 L204.4,496.8 L205.8,499.5 L207.1,500.9 L208.5,502.3 L209.9,507.8 L211.3,499.5 L212.6,494.0 L214.0,484.4 L215.1,494.0 L216.2,499.5 L217.3,505.0 L218.4,516.0 L219.5,538.0 L220.9,551.8 L222.3,483.0 L223.6,491.3 L225.0,483.0 L226.4,494.0 L227.2,480.3 L228.3,488.5 L229.1,483.0 L230.0,491.3 L230.8,485.8 L231.9,543.5 L232.7,456.9 L233.8,483.0 L234.6,491.3 L235.5,499.5 L236.6,491.3 L237.4,538.0 L238.8,470.6 L240.1,491.3 L241.0,483.0 L242.1,499.5 L242.9,491.3 L243.7,518.8 L244.8,491.3 L245.6,480.3 L247.0,499.5 L248.4,529.8 L249.2,470.6 L250.3,496.8 L251.1,483.0 L252.0,499.5 L253.3,483.0 L254.7,494.0 L255.8,483.0 L256.6,524.3 L258.0,499.5 L259.4,491.3 L260.8,477.5 L262.1,507.8 L263.5,524.3 L264.9,543.5 L266.3,469.3 L267.6,499.5 L269.0,527.0 L270.1,499.5 L271.2,465.1 L272.3,485.8 L274.0,524.3 L275.4,527.0 L276.7,466.5 L278.2,527.0 L279.4,499.5 L280.2,417.0 L281.6,550.4 L283.2,494.0 L284.6,527.0 L285.7,444.5 L287.1,491.3 L288.1,466.5 L289.2,510.5 L290.6,485.8 L292.0,505.0 L293.4,480.3 L294.8,499.5 L296.1,484.4 L297.5,502.3 L298.9,488.5 L300.2,507.8 L301.6,494.0 L303.0,505.0 L304.4,452.8 L305.8,528.4 L307.1,483.0 L308.5,491.3 L309.9,472.0 L311.2,529.8 L312.6,459.6 L314.0,538.0 L314.8,461.0 L316.2,499.5 L318.1,507.8 L319.5,477.5 L320.9,491.3 L322.3,543.5 L323.1,474.8 L324.5,543.5 L325.8,499.5 L327.2,488.5 L328.3,471.7 L329.1,415.6 L330.0,575.0 L330.5,545.3 L331.2,473.8 L331.9,551.4 L332.7,444.5 L333.3,547.6 L333.8,433.5 L334.8,561.6 L335.5,458.5 L336.0,582.0 L336.8,432.0 L337.7,562.5 L338.4,480.7 L339.1,524.1 L339.8,491.3 L340.5,570.2 L341.5,505.0 L342.9,494.0 L344.3,491.3 L345.4,499.5 L346.5,487.1 L347.8,505.0 L349.2,483.0 L350.3,499.5 L351.1,496.8 L352.5,502.3 L353.9,491.3 L355.3,499.5 L356.6,516.0 L358.0,505.0 L359.4,551.8 L360.8,407.4 L362.1,499.5 L363.5,516.0 L364.9,483.0 L366.3,505.0 L367.6,521.5 L369.0,491.3 L370.4,487.1 L371.8,502.3 L373.1,498.1 L374.5,499.5 L375.9,496.8 L377.3,499.5 L378.6,500.9 L380.0,511.9 L381.4,496.8 L382.8,499.5 L384.1,496.8 L385.5,491.3 L386.9,494.0 L388.3,489.9 L389.6,496.8 L391.0,499.5 L392.4,494.0 L393.8,496.8 L395.1,499.5 L396.5,498.1 L397.9,494.0 L399.3,494.0 L400.6,499.5 L402.0,499.5 L403.4,495.4 L404.8,491.3 L406.1,496.8 L407.5,492.6 L408.9,494.0 L410.3,491.3 L411.6,483.0 L413.0,488.5 L414.4,452.8 L415.8,488.5 L417.1,484.4 L418.5,521.5 L419.9,466.5 L421.3,491.3 L422.6,505.0 L424.0,494.0 L425.4,505.0 L426.8,496.8 L428.1,502.3 L429.5,499.5 L430.9,491.3 L432.3,494.0 L433.6,502.3 L435.0,499.5 L436.1,491.3 L437.2,494.0 L438.3,514.6 L440.0,496.8 L441.1,491.3 L441.9,491.3 L443.3,499.5 L444.6,494.0 L446.0,496.8 L447.4,491.3 L448.8,494.0 L450.1,499.5 L451.5,499.5 L452.9,494.0 L454.3,496.8 L455.6,491.3 L457.0,494.0 L458.4,500.9 L459.8,527.0 L460.6,465.1 L462.0,496.8 L463.1,491.3 L463.9,506.4 L465.3,485.8 L466.6,502.3 L468.0,488.5 L469.4,507.8 L470.8,491.3 L471.6,505.0" fill="none" stroke="#0000ff" stroke-width="2.0" stroke-linejoin="round" stroke-linecap="round"/><rect x="401.5" y="365.1" width="85.3" height="48.4" fill="#fff" stroke="#000" stroke-width="1.7"/><line x1="412.9" y1="381.2" x2="438.6" y2="381.2" stroke="#0000ff" stroke-width="1.9"/><text x="450.7" y="386.2" font-size="14.6">SHR</text><line x1="412.9" y1="397.5" x2="438.6" y2="397.5" stroke="#ff0000" stroke-width="1.9"/><text x="450.7" y="402.5" font-size="14.6">SHV</text><path d="M76.0,598.5 L77.9,599.9 L79.8,602.6 L81.5,601.3 L82.5,587.5 L84.2,565.5 L86.1,546.3 L88.0,539.4 L89.7,542.1 L91.6,549.0 L93.5,551.8 L95.2,562.8 L96.6,575.1 L98.5,579.3 L100.7,579.3 L102.1,566.9 L103.5,573.8 L105.4,575.1 L107.3,576.0 L109.0,575.1 L110.3,562.8 L111.7,561.4 L113.1,564.1 L114.5,561.4 L115.8,565.5 L117.2,560.0 L118.6,549.0 L120.0,527.0 L121.9,510.5 L123.8,498.1 L125.5,488.5 L126.8,483.0 L128.2,489.9 L129.6,505.0 L131.0,527.0 L132.3,549.0 L133.7,568.3 L135.1,579.3 L136.5,576.5 L137.8,560.0 L139.2,551.8 L141.1,550.4 L143.1,549.0 L144.7,544.9 L146.6,540.8 L148.6,538.0 L150.2,533.9 L151.6,529.8 L153.0,540.8 L154.1,571.0 L155.7,584.8 L156.8,586.1 L158.5,579.3 L160.4,576.5 L161.8,576.5 L163.4,579.3 L165.1,582.0 L166.2,554.5 L167.3,516.0 L168.6,477.5 L170.0,455.5 L171.4,437.6 L172.8,430.8 L174.1,436.3 L175.5,455.5 L176.9,480.3 L178.3,499.5 L179.6,510.5 L181.0,516.0 L182.9,520.1 L185.1,522.9 L186.5,510.5 L187.9,466.5 L189.3,417.0 L190.6,386.8 L192.0,377.1 L193.9,375.8 L195.3,384.0 L196.7,411.5 L198.1,450.0 L199.4,494.0 L200.8,538.0 L202.2,576.5 L203.6,598.5 L205.2,602.6 L207.1,601.3 L209.1,602.6 L210.7,598.5 L212.1,576.5 L213.5,554.5 L214.8,540.8 L216.8,536.6 L219.0,538.0 L220.9,543.5 L222.8,551.8 L224.5,560.0 L225.8,579.3 L227.2,586.1 L228.6,571.0 L230.0,576.5 L231.9,582.0 L233.8,584.8 L236.0,588.9 L238.2,590.3 L240.1,583.4 L241.5,591.6 L243.7,588.9 L245.6,590.3 L247.0,597.1 L249.2,595.8 L251.1,602.6 L253.1,606.2 L254.7,598.5 L256.6,597.1 L258.0,579.3 L259.4,560.0 L260.8,543.5 L262.7,531.1 L264.1,530.3 L266.3,535.3 L267.6,540.8 L269.6,543.5 L271.2,554.5 L272.3,571.0 L274.0,572.4 L275.9,565.5 L278.2,560.0 L279.6,549.0 L281.0,540.8 L282.4,534.7 L284.3,533.1 L285.9,533.9 L287.3,538.0 L288.7,543.5 L289.8,540.8 L291.4,560.0 L292.6,582.0 L293.6,604.0 L294.8,613.6 L296.1,615.0 L297.5,604.0 L298.9,601.3 L300.2,601.8 L301.6,599.9 L303.0,599.9 L304.4,597.1 L305.8,595.2 L307.1,593.9 L308.5,593.0 L309.9,594.4 L311.2,591.6 L312.6,594.4 L314.0,597.1 L315.4,593.0 L316.8,579.3 L318.1,565.5 L319.5,555.9 L320.9,550.4 L322.3,549.0 L324.5,550.4 L325.8,551.8 L327.2,553.1 L328.6,547.6 L330.0,549.0 L331.9,554.5 L333.8,560.0 L336.0,568.3 L338.2,576.5 L340.1,577.9 L342.1,582.0 L343.7,593.0 L344.8,604.0 L345.9,613.6 L347.6,613.6 L349.2,613.6 L350.6,612.3 L351.7,584.8 L353.1,583.4 L355.3,582.9 L357.5,582.0 L359.4,582.0 L361.6,581.5 L363.5,580.6 L365.7,580.6 L367.1,579.3 L367.9,587.5 L369.0,610.9 L370.4,612.3 L372.3,612.8 L374.0,617.8 L375.9,616.4 L377.8,615.0 L379.5,613.6 L381.4,615.0 L382.8,617.2 L384.1,619.1 L385.5,621.9 L387.7,624.6 L389.6,626.0 L391.6,625.5 L393.2,624.6 L395.1,623.3 L397.1,619.1 L398.7,619.1 L400.6,616.4 L402.6,613.6 L404.8,612.3 L406.1,604.0 L407.5,560.0 L408.9,516.0 L410.3,480.3 L411.6,452.8 L413.0,441.8 L414.9,436.3 L416.6,435.7 L418.0,439.0 L419.3,450.0 L420.7,472.0 L421.8,505.0 L422.9,549.0 L424.0,582.0 L425.4,604.0 L426.8,610.9 L428.4,612.3 L430.1,609.5 L431.2,598.5 L432.3,582.0 L433.6,571.0 L435.0,569.6 L436.4,571.0 L438.3,573.8 L440.0,576.5 L441.1,582.0 L442.7,593.0 L444.6,609.5 L446.0,620.5 L447.4,616.4 L448.8,612.3 L450.1,606.8 L451.5,604.0 L452.9,598.5 L454.8,595.8 L457.0,590.3 L459.2,586.1 L461.1,586.1 L463.1,584.8 L465.3,582.0 L466.9,580.6 L468.0,590.3 L468.8,604.0 L470.2,606.2 L471.6,604.0" fill="none" stroke="#ff0000" stroke-width="2.0" stroke-linejoin="round" stroke-linecap="round"/><rect x="60.8" y="365.1" width="426.0" height="286.2" fill="none" stroke="#000" stroke-width="1.7" stroke-linejoin="round"/><line x1="65.4" y1="651.3" x2="65.4" y2="662.9" stroke="#000" stroke-width="1.7" stroke-linecap="round"/><text x="46.60" y="693.70" font-size="16.9">20 4</text><path d="M0.288,0 L0.376,0 L0.376,-0.688 L0.308,-0.688 L0.273,-0.649 L0.122,-0.552 L0.122,-0.481 L0.288,-0.581 Z" transform="translate(65.40,693.70) scale(16.9)" fill="#000" stroke="#000" stroke-width="0.0148"/><line x1="150.9" y1="651.3" x2="150.9" y2="662.9" stroke="#000" stroke-width="1.7" stroke-linecap="round"/><text x="132.10" y="693.70" font-size="16.9">20 6</text><path d="M0.288,0 L0.376,0 L0.376,-0.688 L0.308,-0.688 L0.273,-0.649 L0.122,-0.552 L0.122,-0.481 L0.288,-0.581 Z" transform="translate(150.90,693.70) scale(16.9)" fill="#000" stroke="#000" stroke-width="0.0148"/><line x1="236.4" y1="651.3" x2="236.4" y2="662.9" stroke="#000" stroke-width="1.7" stroke-linecap="round"/><text x="217.60" y="693.70" font-size="16.9">20 8</text><path d="M0.288,0 L0.376,0 L0.376,-0.688 L0.308,-0.688 L0.273,-0.649 L0.122,-0.552 L0.122,-0.481 L0.288,-0.581 Z" transform="translate(236.40,693.70) scale(16.9)" fill="#000" stroke="#000" stroke-width="0.0148"/><line x1="321.9" y1="651.3" x2="321.9" y2="662.9" stroke="#000" stroke-width="1.7" stroke-linecap="round"/><text x="303.10" y="693.70" font-size="16.9">2020</text><line x1="407.4" y1="651.3" x2="407.4" y2="662.9" stroke="#000" stroke-width="1.7" stroke-linecap="round"/><text x="388.60" y="693.70" font-size="16.9">2022</text><line x1="49.2" y1="643.8" x2="60.8" y2="643.8" stroke="#000" stroke-width="1.7" stroke-linecap="round"/><text x="8.83" y="650.10" font-size="16.9">−40</text><line x1="49.2" y1="571.2" x2="60.8" y2="571.2" stroke="#000" stroke-width="1.7" stroke-linecap="round"/><text x="8.83" y="577.50" font-size="16.9">−20</text><line x1="49.2" y1="498.6" x2="60.8" y2="498.6" stroke="#000" stroke-width="1.7" stroke-linecap="round"/><text x="28.10" y="504.90" font-size="16.9">0</text><line x1="49.2" y1="426.0" x2="60.8" y2="426.0" stroke="#000" stroke-width="1.7" stroke-linecap="round"/><text x="18.70" y="432.30" font-size="16.9">20</text><line x1="486.8" y1="641.2" x2="498.4" y2="641.2" stroke="#000" stroke-width="1.7" stroke-linecap="round"/><text x="510.40" y="647.50" font-size="16.9">0</text><line x1="486.8" y1="591.5" x2="498.4" y2="591.5" stroke="#000" stroke-width="1.7" stroke-linecap="round"/><text x="510.40" y="597.80" font-size="16.9">2</text><line x1="486.8" y1="541.8" x2="498.4" y2="541.8" stroke="#000" stroke-width="1.7" stroke-linecap="round"/><text x="510.40" y="548.10" font-size="16.9">4</text><line x1="486.8" y1="492.1" x2="498.4" y2="492.1" stroke="#000" stroke-width="1.7" stroke-linecap="round"/><text x="510.40" y="498.40" font-size="16.9">6</text><line x1="486.8" y1="442.4" x2="498.4" y2="442.4" stroke="#000" stroke-width="1.7" stroke-linecap="round"/><text x="510.40" y="448.70" font-size="16.9">8</text><line x1="486.8" y1="392.7" x2="498.4" y2="392.7" stroke="#000" stroke-width="1.7" stroke-linecap="round"/><text x="510.40" y="399.00" font-size="16.9"> 0</text><path d="M0.288,0 L0.376,0 L0.376,-0.688 L0.308,-0.688 L0.273,-0.649 L0.122,-0.552 L0.122,-0.481 L0.288,-0.581 Z" transform="translate(510.40,399.00) scale(16.9)" fill="#000" stroke="#000" stroke-width="0.0148"/></g>
<g><path d="M600.0,516.0 L601.1,499.5 L601.7,400.5 L602.8,524.3 L603.9,516.0 L604.5,543.5 L605.5,507.8 L606.4,560.0 L607.2,469.3 L607.8,510.5 L608.6,516.0 L609.1,421.1 L610.0,513.3 L610.5,621.9 L611.6,538.0 L612.4,598.5 L613.2,408.8 L614.1,527.0 L615.5,524.3 L616.5,505.0 L617.6,521.5 L618.8,527.0 L619.6,382.6 L620.7,516.0 L621.5,532.5 L622.3,496.8 L623.4,496.8 L624.2,499.5 L625.6,495.4 L626.5,529.8 L627.3,498.1 L628.4,503.6 L629.2,494.0 L630.3,491.3 L631.1,502.3 L632.5,499.5 L633.9,496.8 L635.3,503.6 L636.6,502.3 L638.0,488.5 L638.8,505.0 L640.2,496.8 L641.3,494.0 L642.4,496.8 L643.5,499.5 L644.9,499.5 L646.8,499.5 L647.9,531.1 L649.0,554.5 L649.8,580.6 L651.2,579.3 L652.3,527.0 L653.1,395.0 L654.0,472.0 L655.1,450.0 L656.4,447.3 L657.8,491.3 L658.6,488.5 L660.0,492.6 L661.4,491.3 L662.8,492.6 L664.1,491.3 L665.5,496.8 L666.9,510.5 L668.3,499.5 L669.6,498.1 L672.4,498.1 L675.1,496.8 L677.9,497.6 L680.6,496.8 L683.4,496.8 L686.1,498.1 L688.9,499.5 L691.1,499.5 L692.2,527.0 L693.6,532.5 L694.7,576.5 L695.8,639.2 L696.6,521.5 L697.7,477.5 L698.5,478.9 L699.9,494.0 L701.3,498.1 L702.6,498.1 L704.0,496.8 L705.4,494.0 L706.8,498.1 L709.5,499.5 L712.3,500.9 L715.0,501.7 L717.8,500.9 L720.5,499.5 L723.3,498.7 L726.0,497.6 L728.8,497.6 L732.9,498.1 L735.6,499.5 L737.0,516.0 L738.4,632.9 L739.8,499.5 L742.5,499.5 L748.0,499.0 L753.5,498.1 L759.0,497.3 L764.5,496.8 L770.0,496.8 L772.8,495.4 L773.9,477.5 L775.0,444.5 L776.1,485.8 L777.2,494.0 L777.7,521.5 L778.8,505.0 L779.9,472.0 L781.0,450.0 L781.6,494.0 L782.7,499.0 L786.5,499.0 L792.0,499.0 L797.5,499.5 L804.0,499.5 L809.5,499.5 L815.0,499.0 L819.1,498.7 L820.5,474.2 L821.9,488.5 L823.2,491.3 L824.1,505.0 L825.2,520.1 L826.0,491.3 L827.4,514.6 L828.8,494.0 L830.1,480.3 L831.5,495.4 L832.9,496.8 L835.6,494.0 L838.4,492.6 L841.1,491.8 L843.9,491.3 L846.6,491.3 L847.5,510.5 L848.0,531.1 L849.4,494.0 L850.8,477.5 L852.1,485.8 L853.0,505.0 L854.1,476.1 L855.7,485.8 L856.8,465.1 L857.9,494.0 L859.0,505.0 L860.4,477.5 L861.8,447.3 L862.6,452.8 L863.4,540.8 L864.5,485.8 L865.3,433.5 L866.2,491.3 L867.3,505.0 L868.6,494.0 L870.0,510.5 L871.4,496.8 L872.8,505.0 L874.1,494.0 L875.5,516.0 L876.9,499.5 L878.3,477.5 L879.6,485.8 L881.0,509.1 L882.4,496.8 L883.8,499.5 L885.1,510.5 L886.5,521.5 L887.9,494.0 L889.3,477.5 L890.6,477.5 L891.5,432.1 L892.6,527.0 L893.7,535.3 L894.8,521.5 L895.6,572.4 L896.7,499.5 L897.5,480.3 L898.3,472.0 L899.7,465.1 L900.8,494.0 L902.5,480.3 L903.6,488.5 L904.4,516.0 L905.2,485.8 L905.8,440.4 L906.6,472.0 L907.1,375.8 L908.0,485.8 L908.5,641.1 L909.9,521.5 L910.7,480.3 L911.8,499.5 L912.9,505.0 L914.0,500.9 L914.8,491.3 L915.7,505.0 L916.8,502.3 L918.1,500.9 L920.9,499.5 L922.3,496.8 L923.6,485.8 L924.5,499.5 L925.6,502.3 L927.8,505.0 L930.5,502.3 L931.9,494.0 L933.3,472.0 L934.1,499.5 L935.5,491.3 L936.6,500.9 L938.2,473.4 L939.6,494.0 L941.5,494.0 L944.3,496.8 L947.0,499.5 L949.8,494.0 L952.5,472.0 L953.9,450.0 L954.7,452.8 L955.8,485.8 L956.9,502.3 L958.0,529.8 L959.4,499.5 L960.8,505.0 L962.1,480.3 L963.5,499.5 L964.9,485.8 L966.3,507.8 L967.6,499.5 L969.0,505.0 L970.4,510.5 L971.8,521.5 L972.6,560.0 L974.0,524.3 L975.1,477.5 L976.2,499.5 L977.3,516.0 L978.6,485.8 L980.0,510.5 L981.1,532.5 L981.9,549.0 L982.8,443.7 L984.1,483.0 L985.5,494.0 L986.9,491.3 L988.3,496.8 L989.6,491.3 L991.0,499.5 L992.1,510.5 L993.2,474.8 L994.6,469.3" fill="none" stroke="#0000ff" stroke-width="2.0" stroke-linejoin="round" stroke-linecap="round"/><rect x="929.1" y="365.1" width="81.2" height="48.4" fill="#fff" stroke="#000" stroke-width="1.7"/><line x1="940.5" y1="381.2" x2="966.2" y2="381.2" stroke="#0000ff" stroke-width="1.9"/><text x="978.3" y="386.2" font-size="14.6">TJR</text><line x1="940.5" y1="397.5" x2="966.2" y2="397.5" stroke="#ff0000" stroke-width="1.9"/><text x="978.3" y="402.5" font-size="14.6">TJV</text><path d="M599.5,514.6 L600.3,517.4 L601.4,514.6 L602.8,494.0 L604.2,458.3 L605.5,422.5 L607.2,397.8 L608.6,384.0 L609.7,375.8 L610.8,384.0 L611.9,400.5 L613.2,417.0 L614.6,432.1 L616.0,434.9 L617.4,440.4 L618.8,480.3 L620.1,516.0 L621.5,527.0 L623.7,531.1 L624.8,538.0 L625.9,560.0 L627.0,573.8 L628.4,587.5 L629.8,601.3 L631.1,604.0 L632.5,612.3 L633.9,626.0 L635.3,632.9 L636.6,630.1 L638.0,628.8 L639.4,626.0 L640.8,582.0 L642.1,527.0 L643.5,485.8 L644.9,461.0 L646.3,454.1 L647.6,455.5 L649.0,461.0 L650.4,469.3 L651.8,477.5 L653.1,485.8 L654.5,494.0 L655.9,491.3 L657.3,484.4 L658.6,483.0 L660.0,494.0 L661.4,521.5 L662.8,554.5 L664.1,587.5 L665.5,609.5 L666.9,619.1 L668.3,623.3 L670.5,626.0 L672.4,625.5 L673.8,627.4 L675.1,634.3 L676.5,636.5 L677.9,635.6 L679.8,634.3 L682.0,634.3 L684.2,634.3 L685.3,609.5 L687.0,554.5 L688.3,507.8 L690.3,480.3 L692.2,473.4 L693.8,474.8 L695.2,480.3 L697.1,499.5 L698.5,532.5 L699.9,568.3 L701.3,598.5 L702.6,615.0 L704.0,623.3 L705.9,630.1 L708.1,631.5 L710.3,628.8 L712.3,624.6 L714.5,623.3 L716.4,621.9 L718.3,623.3 L720.5,625.5 L722.7,630.1 L724.6,632.9 L726.6,634.3 L728.8,636.5 L730.1,609.5 L731.5,582.0 L732.9,565.5 L734.8,560.0 L736.5,557.8 L738.4,557.8 L739.8,560.0 L741.1,568.3 L742.5,587.5 L743.9,612.3 L745.3,631.5 L746.6,639.8 L749.4,639.2 L752.1,638.4 L754.9,637.9 L757.6,637.0 L760.4,636.5 L763.1,635.6 L765.9,635.1 L767.3,623.3 L768.6,609.5 L770.0,601.3 L771.4,595.8 L772.8,593.0 L775.0,587.5 L776.9,588.9 L778.8,593.0 L780.5,601.3 L781.6,615.0 L783.2,626.0 L784.6,626.0 L786.0,626.0 L787.1,630.1 L788.5,635.6 L789.8,637.0 L792.0,637.0 L794.8,636.5 L797.5,636.5 L801.2,635.9 L804.0,636.2 L806.8,637.0 L809.5,637.6 L811.7,637.9 L812.8,631.5 L814.5,626.0 L816.4,617.8 L818.3,616.4 L820.5,617.0 L822.7,618.3 L824.6,620.5 L826.5,623.3 L828.8,626.0 L831.0,624.6 L832.9,620.5 L834.8,617.8 L836.5,613.6 L837.8,612.3 L839.2,609.5 L840.3,610.9 L842.0,613.6 L843.3,615.0 L844.7,610.9 L846.1,604.0 L847.5,598.5 L848.8,587.5 L850.2,580.6 L851.6,579.3 L853.0,571.0 L854.1,554.5 L855.4,538.0 L856.8,524.3 L858.2,507.8 L859.6,502.3 L861.2,500.9 L862.3,503.6 L863.7,510.5 L865.1,521.5 L866.7,538.0 L868.4,560.0 L870.0,582.0 L871.7,590.3 L873.3,595.8 L875.0,598.5 L876.6,601.3 L878.3,602.6 L879.6,595.8 L881.0,593.0 L882.4,595.8 L883.8,594.4 L885.1,573.8 L886.5,568.3 L887.9,565.5 L889.3,564.1 L890.6,562.8 L892.0,557.3 L893.4,554.5 L894.8,551.8 L896.1,550.4 L897.5,550.4 L898.9,527.0 L900.3,499.5 L901.6,483.0 L903.0,478.9 L904.4,480.3 L905.8,491.3 L906.9,516.0 L908.0,532.5 L909.1,536.6 L910.7,535.3 L911.8,532.5 L913.2,527.0 L914.6,525.6 L915.7,529.8 L916.8,560.0 L918.1,573.8 L919.5,587.5 L920.9,601.3 L922.3,613.6 L923.6,614.5 L925.0,611.7 L927.2,612.3 L929.1,610.9 L931.1,609.5 L933.3,604.0 L935.5,598.5 L937.4,590.3 L938.8,582.0 L940.1,582.0 L942.1,583.4 L943.7,586.1 L945.1,587.5 L946.5,554.5 L947.8,516.0 L949.2,496.8 L951.1,494.0 L952.5,495.4 L954.4,499.5 L956.1,507.8 L957.5,521.5 L958.8,540.8 L960.2,568.3 L961.6,590.3 L963.0,599.9 L964.3,604.0 L965.7,587.5 L967.1,554.5 L968.5,535.3 L969.8,527.0 L971.2,522.9 L973.1,524.3 L974.5,528.4 L975.9,543.5 L977.3,560.0 L978.6,579.3 L980.0,595.8 L981.4,590.3 L982.8,590.3 L984.7,590.3 L986.3,586.1 L987.4,571.0 L988.3,565.5 L989.9,565.5 L991.0,576.5 L991.8,584.8 L993.2,583.4 L994.6,582.0" fill="none" stroke="#ff0000" stroke-width="2.0" stroke-linejoin="round" stroke-linecap="round"/><rect x="584.3" y="365.1" width="426.0" height="286.2" fill="none" stroke="#000" stroke-width="1.7" stroke-linejoin="round"/><line x1="588.9" y1="651.3" x2="588.9" y2="662.9" stroke="#000" stroke-width="1.7" stroke-linecap="round"/><text x="570.10" y="693.70" font-size="16.9">20 4</text><path d="M0.288,0 L0.376,0 L0.376,-0.688 L0.308,-0.688 L0.273,-0.649 L0.122,-0.552 L0.122,-0.481 L0.288,-0.581 Z" transform="translate(588.90,693.70) scale(16.9)" fill="#000" stroke="#000" stroke-width="0.0148"/><line x1="674.4" y1="651.3" x2="674.4" y2="662.9" stroke="#000" stroke-width="1.7" stroke-linecap="round"/><text x="655.60" y="693.70" font-size="16.9">20 6</text><path d="M0.288,0 L0.376,0 L0.376,-0.688 L0.308,-0.688 L0.273,-0.649 L0.122,-0.552 L0.122,-0.481 L0.288,-0.581 Z" transform="translate(674.40,693.70) scale(16.9)" fill="#000" stroke="#000" stroke-width="0.0148"/><line x1="759.9" y1="651.3" x2="759.9" y2="662.9" stroke="#000" stroke-width="1.7" stroke-linecap="round"/><text x="741.10" y="693.70" font-size="16.9">20 8</text><path d="M0.288,0 L0.376,0 L0.376,-0.688 L0.308,-0.688 L0.273,-0.649 L0.122,-0.552 L0.122,-0.481 L0.288,-0.581 Z" transform="translate(759.90,693.70) scale(16.9)" fill="#000" stroke="#000" stroke-width="0.0148"/><line x1="845.4" y1="651.3" x2="845.4" y2="662.9" stroke="#000" stroke-width="1.7" stroke-linecap="round"/><text x="826.60" y="693.70" font-size="16.9">2020</text><line x1="930.9" y1="651.3" x2="930.9" y2="662.9" stroke="#000" stroke-width="1.7" stroke-linecap="round"/><text x="912.10" y="693.70" font-size="16.9">2022</text><line x1="572.7" y1="602.8" x2="584.3" y2="602.8" stroke="#000" stroke-width="1.7" stroke-linecap="round"/><text x="532.33" y="609.10" font-size="16.9">−20</text><line x1="572.7" y1="550.8" x2="584.3" y2="550.8" stroke="#000" stroke-width="1.7" stroke-linecap="round"/><text x="532.33" y="557.07" font-size="16.9">− 0</text><path d="M0.288,0 L0.376,0 L0.376,-0.688 L0.308,-0.688 L0.273,-0.649 L0.122,-0.552 L0.122,-0.481 L0.288,-0.581 Z" transform="translate(542.20,557.07) scale(16.9)" fill="#000" stroke="#000" stroke-width="0.0148"/><line x1="572.7" y1="498.8" x2="584.3" y2="498.8" stroke="#000" stroke-width="1.7" stroke-linecap="round"/><text x="551.60" y="505.05" font-size="16.9">0</text><line x1="572.7" y1="446.7" x2="584.3" y2="446.7" stroke="#000" stroke-width="1.7" stroke-linecap="round"/><text x="542.20" y="453.03" font-size="16.9"> 0</text><path d="M0.288,0 L0.376,0 L0.376,-0.688 L0.308,-0.688 L0.273,-0.649 L0.122,-0.552 L0.122,-0.481 L0.288,-0.581 Z" transform="translate(542.20,453.03) scale(16.9)" fill="#000" stroke="#000" stroke-width="0.0148"/><line x1="572.7" y1="394.7" x2="584.3" y2="394.7" stroke="#000" stroke-width="1.7" stroke-linecap="round"/><text x="542.20" y="401.00" font-size="16.9">20</text><line x1="1010.3" y1="640.4" x2="1021.9" y2="640.4" stroke="#000" stroke-width="1.7" stroke-linecap="round"/><text x="1033.90" y="646.70" font-size="16.9">0</text><line x1="1010.3" y1="601.7" x2="1021.9" y2="601.7" stroke="#000" stroke-width="1.7" stroke-linecap="round"/><text x="1033.90" y="607.99" font-size="16.9"> </text><path d="M0.288,0 L0.376,0 L0.376,-0.688 L0.308,-0.688 L0.273,-0.649 L0.122,-0.552 L0.122,-0.481 L0.288,-0.581 Z" transform="translate(1033.90,607.99) scale(16.9)" fill="#000" stroke="#000" stroke-width="0.0148"/><line x1="1010.3" y1="563.0" x2="1021.9" y2="563.0" stroke="#000" stroke-width="1.7" stroke-linecap="round"/><text x="1033.90" y="569.28" font-size="16.9">2</text><line x1="1010.3" y1="524.3" x2="1021.9" y2="524.3" stroke="#000" stroke-width="1.7" stroke-linecap="round"/><text x="1033.90" y="530.57" font-size="16.9">3</text><line x1="1010.3" y1="485.6" x2="1021.9" y2="485.6" stroke="#000" stroke-width="1.7" stroke-linecap="round"/><text x="1033.90" y="491.86" font-size="16.9">4</text><line x1="1010.3" y1="446.8" x2="1021.9" y2="446.8" stroke="#000" stroke-width="1.7" stroke-linecap="round"/><text x="1033.90" y="453.15" font-size="16.9">5</text><line x1="1010.3" y1="408.1" x2="1021.9" y2="408.1" stroke="#000" stroke-width="1.7" stroke-linecap="round"/><text x="1033.90" y="414.44" font-size="16.9">6</text><line x1="1010.3" y1="369.4" x2="1021.9" y2="369.4" stroke="#000" stroke-width="1.7" stroke-linecap="round"/><text x="1033.90" y="375.73" font-size="16.9">7</text></g>
<g><path d="M76.0,872.9 L77.0,860.5 L77.9,852.3 L79.2,860.5 L80.6,848.1 L81.5,866.0 L82.5,912.8 L83.4,857.8 L84.8,871.5 L85.6,842.6 L86.7,882.5 L87.5,901.8 L88.9,936.1 L89.7,809.6 L90.8,877.0 L91.6,893.5 L92.5,882.5 L93.5,896.3 L95.2,875.6 L96.3,888.0 L97.7,882.5 L98.5,901.8 L99.9,923.8 L100.7,841.3 L101.8,879.8 L102.6,888.0 L104.0,882.5 L105.4,797.3 L106.2,885.3 L107.3,866.0 L108.4,849.5 L109.5,947.1 L110.9,866.0 L112.3,864.6 L113.6,867.4 L115.0,866.0 L116.4,866.0 L117.8,793.1 L119.1,866.0 L120.0,978.8 L121.1,868.8 L122.2,793.1 L123.3,864.6 L124.6,936.1 L126.0,857.8 L127.4,863.3 L128.8,867.4 L130.1,860.5 L131.5,871.5 L132.9,861.9 L134.3,866.0 L135.6,855.0 L137.0,871.5 L138.4,866.0 L139.8,901.8 L141.1,860.5 L142.5,877.0 L143.9,863.3 L145.3,875.6 L146.6,860.5 L148.0,871.5 L149.4,838.5 L150.8,871.5 L152.1,852.3 L153.5,888.0 L154.9,844.0 L156.3,893.5 L157.6,932.0 L158.5,833.0 L159.6,882.5 L160.7,849.5 L161.8,896.3 L163.1,866.0 L164.5,877.0 L165.9,816.5 L167.3,893.5 L168.4,852.3 L169.5,912.8 L170.6,819.3 L171.7,921.0 L172.8,824.8 L174.1,866.0 L175.5,855.0 L176.9,877.0 L178.3,822.0 L179.6,907.3 L181.0,813.8 L182.4,882.5 L183.8,860.5 L185.1,877.0 L186.5,841.3 L187.9,888.0 L189.3,849.5 L190.6,866.0 L192.0,845.4 L193.4,888.0 L194.2,795.9 L195.3,893.5 L196.1,844.0 L197.5,868.8 L198.3,929.3 L199.7,838.5 L200.8,877.0 L201.6,852.3 L203.0,879.8 L204.4,860.5 L205.8,888.0 L207.1,844.0 L208.5,871.5 L209.9,846.8 L211.3,912.8 L212.1,852.3 L213.5,877.0 L214.6,860.5 L215.7,899.0 L216.8,846.8 L218.1,835.8 L219.5,866.0 L220.9,860.5 L222.3,871.5 L223.6,855.0 L225.0,868.8 L226.4,890.8 L227.8,804.1 L229.1,877.0 L230.5,857.8 L231.9,866.0 L233.3,860.5 L234.6,877.0 L236.0,857.8 L237.4,866.0 L238.8,852.3 L240.1,871.5 L241.5,912.8 L242.3,857.8 L243.4,841.3 L244.8,877.0 L245.6,852.3 L247.0,866.0 L248.4,835.8 L249.8,874.3 L251.1,855.0 L252.5,888.0 L253.9,866.0 L255.3,824.8 L256.6,890.8 L257.5,827.5 L258.6,893.5 L259.7,860.5 L260.8,877.0 L261.9,936.1 L263.0,860.5 L264.1,838.5 L265.7,877.0 L266.8,857.8 L268.5,885.3 L269.6,849.5 L270.4,769.8 L271.8,904.5 L273.1,838.5 L274.0,915.5 L275.1,1000.8 L276.2,735.4 L277.1,973.3 L278.2,791.8 L279.1,970.5 L280.4,779.4 L281.6,871.5 L282.9,860.5 L283.8,855.0 L285.1,866.0 L286.5,849.5 L287.9,868.8 L289.2,885.3 L290.6,841.3 L292.0,866.0 L293.4,874.3 L294.8,855.0 L296.1,860.5 L296.9,985.6 L298.1,784.9 L299.1,877.0 L300.2,844.0 L301.6,855.0 L302.4,866.0 L303.6,860.5 L304.9,874.3 L306.3,860.5 L307.7,852.3 L309.1,871.5 L310.4,860.5 L311.8,866.0 L313.2,857.8 L314.6,874.3 L315.9,857.8 L317.3,954.0 L318.7,771.1 L320.1,885.3 L321.4,844.0 L322.8,855.0 L324.2,877.0 L325.6,863.3 L326.9,868.8 L328.3,849.5 L329.7,877.0 L331.1,860.5 L332.7,929.3 L333.8,820.6 L334.9,890.8 L336.0,849.5 L336.8,877.0 L337.9,969.1 L339.3,841.3 L340.4,819.3 L341.5,888.0 L342.9,811.0 L344.3,877.0 L345.6,860.5 L347.0,855.0 L348.4,838.5 L349.8,882.5 L351.1,855.0 L352.5,866.0 L353.9,860.5 L355.3,871.5 L356.6,860.5 L358.0,863.3 L359.4,868.8 L360.8,855.0 L362.1,894.9 L363.0,841.3 L364.1,871.5 L365.2,860.5 L366.3,841.3 L367.6,866.0 L369.0,857.8 L370.4,874.3 L371.8,857.8 L373.1,866.0 L374.5,849.5 L375.9,888.0 L376.7,823.4 L377.8,866.0 L378.9,860.5 L380.0,874.3 L381.4,888.0 L382.8,834.4 L384.1,874.3 L385.5,855.0 L386.9,863.3 L388.3,896.3 L389.6,852.3 L391.0,866.0 L392.4,863.3 L393.8,860.5 L395.1,857.8 L396.5,860.5 L397.9,866.0 L399.3,863.3 L400.6,857.8 L402.0,855.0 L403.4,860.5 L404.8,841.3 L406.1,925.1 L407.5,809.6 L408.9,849.5 L410.3,833.0 L411.6,855.0 L413.0,905.9 L414.4,841.3 L415.8,877.0 L417.1,838.5 L418.5,877.0 L419.9,899.0 L421.3,838.5 L422.1,967.8 L422.9,765.6 L424.0,860.5 L425.4,866.0 L426.8,838.5 L428.1,871.5 L429.5,866.0 L430.9,863.3 L432.3,866.0 L433.6,871.5 L435.0,868.8 L436.4,863.3 L437.8,866.0 L439.1,868.8 L440.5,871.5 L441.9,866.0 L443.3,863.3 L444.6,871.5 L445.5,855.0 L446.6,866.0 L447.4,871.5 L448.8,866.0 L450.1,863.3 L451.5,868.8 L452.9,866.0 L454.3,866.0 L455.6,859.1 L457.0,860.5 L458.4,866.0 L459.8,863.3 L461.1,868.8 L462.5,866.0 L463.9,860.5 L465.3,849.5 L466.1,881.1 L467.5,866.0 L468.6,863.3 L469.4,871.5 L470.8,863.3 L471.6,866.0" fill="none" stroke="#0000ff" stroke-width="2.0" stroke-linejoin="round" stroke-linecap="round"/><rect x="60.8" y="725.7" width="86.9" height="48.4" fill="#fff" stroke="#000" stroke-width="1.7"/><line x1="72.2" y1="741.8" x2="97.9" y2="741.8" stroke="#0000ff" stroke-width="1.9"/><text x="110.0" y="746.8" font-size="14.6">GDR</text><line x1="72.2" y1="758.1" x2="97.9" y2="758.1" stroke="#ff0000" stroke-width="1.9"/><text x="110.0" y="763.1" font-size="14.6">GDV</text><path d="M76.0,919.6 L77.0,925.1 L78.4,927.9 L79.8,926.5 L80.6,910.0 L81.5,885.3 L82.5,879.8 L84.2,877.0 L85.6,860.5 L87.0,833.0 L88.3,805.5 L89.4,794.5 L90.8,793.1 L91.6,778.0 L92.5,769.8 L93.5,764.2 L94.7,767.0 L95.8,780.8 L97.1,779.4 L98.5,786.3 L99.3,805.5 L100.7,846.8 L102.1,877.0 L103.5,896.3 L104.8,915.5 L106.2,932.0 L107.6,938.9 L109.0,936.1 L110.9,930.6 L112.8,923.8 L114.5,925.1 L116.4,927.9 L117.8,929.3 L119.1,926.5 L120.5,921.0 L121.9,915.5 L123.3,910.0 L124.6,904.5 L126.0,901.8 L127.4,910.0 L128.2,925.1 L129.6,926.5 L131.0,932.0 L132.1,954.0 L132.9,970.5 L133.7,981.5 L135.6,984.3 L137.6,985.6 L139.8,984.3 L142.0,982.9 L143.9,980.1 L145.3,978.8 L146.6,981.5 L148.0,981.0 L149.4,978.8 L150.8,976.0 L153.0,975.5 L154.9,973.8 L156.3,970.5 L157.6,967.8 L159.0,970.5 L160.4,974.6 L161.8,976.0 L163.1,971.9 L164.5,969.1 L165.9,966.4 L167.8,965.6 L169.5,967.2 L171.4,969.1 L172.8,970.5 L175.0,971.9 L176.9,974.6 L178.8,976.0 L180.5,977.4 L182.4,980.1 L183.8,981.5 L186.0,982.9 L187.3,976.0 L188.7,967.8 L189.8,960.9 L191.5,958.1 L193.4,959.5 L195.3,962.3 L197.0,966.4 L198.9,970.5 L200.8,976.0 L202.5,980.1 L204.4,982.9 L205.8,986.5 L207.1,986.5 L208.5,981.5 L209.9,977.4 L211.3,976.0 L212.6,976.6 L214.0,977.4 L215.4,978.8 L217.3,980.1 L219.0,981.5 L220.9,982.9 L222.8,984.3 L224.5,985.6 L226.4,987.0 L228.3,988.4 L230.5,988.4 L232.7,988.4 L234.6,985.6 L236.6,987.0 L238.2,988.4 L240.1,986.5 L242.1,985.6 L244.3,984.3 L246.5,982.9 L248.4,981.5 L250.3,982.1 L252.0,987.0 L253.3,984.3 L254.7,982.9 L256.6,982.9 L258.6,982.9 L260.8,981.5 L262.1,978.8 L263.5,973.3 L264.9,969.1 L266.8,965.0 L268.5,962.3 L270.4,959.5 L271.8,956.8 L273.1,952.6 L274.5,949.9 L275.9,947.1 L277.7,951.3 L279.6,952.6 L281.6,948.5 L283.2,952.6 L285.1,956.8 L286.5,959.5 L287.9,965.0 L289.2,981.5 L290.6,965.0 L292.0,963.6 L294.2,959.5 L296.1,958.1 L297.5,955.4 L299.7,952.6 L301.6,949.9 L303.6,945.8 L305.2,944.4 L306.3,951.3 L307.4,973.3 L308.5,970.5 L309.9,977.4 L311.2,965.0 L312.6,966.4 L314.0,965.0 L315.4,962.3 L316.8,959.5 L318.1,956.8 L319.5,955.4 L320.9,954.0 L322.3,951.3 L323.9,949.9 L325.6,947.1 L326.9,954.0 L328.3,967.8 L330.0,971.9 L331.1,965.0 L332.2,951.3 L333.8,948.5 L335.5,948.0 L337.1,949.1 L338.8,954.0 L340.1,955.4 L342.1,956.2 L344.3,956.8 L346.5,958.1 L347.8,965.0 L349.2,973.3 L350.6,981.5 L351.7,987.0 L353.3,985.6 L355.3,984.3 L356.9,986.5 L358.6,982.9 L359.9,976.0 L361.3,967.8 L363.0,962.3 L364.3,958.1 L366.3,954.0 L367.6,951.3 L369.0,943.0 L370.4,940.3 L371.8,941.6 L373.1,940.3 L374.5,948.5 L375.9,944.4 L377.3,941.6 L378.6,938.9 L380.0,936.1 L381.4,934.8 L382.8,941.6 L384.1,948.5 L385.5,954.0 L386.9,959.5 L388.3,960.1 L389.6,958.1 L391.0,960.9 L392.4,960.9 L393.8,959.5 L395.1,956.8 L396.5,945.8 L397.9,921.0 L399.3,888.0 L400.6,855.0 L402.0,819.3 L403.4,786.3 L404.8,750.5 L405.9,736.8 L407.5,738.1 L408.9,740.9 L410.3,745.0 L411.6,758.8 L412.5,778.0 L413.6,790.4 L414.9,798.6 L416.3,833.0 L417.7,860.5 L419.1,874.3 L420.7,888.0 L422.1,893.5 L423.5,896.3 L425.4,897.6 L427.3,899.0 L429.5,900.4 L430.9,921.0 L431.7,965.0 L432.8,967.8 L433.9,967.2 L435.0,977.4 L436.4,978.8 L438.3,978.2 L440.0,980.1 L441.9,979.3 L443.8,980.1 L446.0,978.8 L448.2,977.4 L449.6,970.5 L451.0,959.5 L452.3,943.0 L454.3,932.0 L456.2,927.9 L458.4,926.5 L459.8,930.6 L461.1,943.0 L462.5,959.5 L463.9,970.5 L465.3,973.3 L466.6,974.6 L468.6,973.8 L470.2,973.3 L471.6,971.9" fill="none" stroke="#ff0000" stroke-width="2.0" stroke-linejoin="round" stroke-linecap="round"/><rect x="60.8" y="725.7" width="426.0" height="286.2" fill="none" stroke="#000" stroke-width="1.7" stroke-linejoin="round"/><line x1="65.4" y1="1011.9" x2="65.4" y2="1023.5" stroke="#000" stroke-width="1.7" stroke-linecap="round"/><text x="46.60" y="1054.30" font-size="16.9">20 4</text><path d="M0.288,0 L0.376,0 L0.376,-0.688 L0.308,-0.688 L0.273,-0.649 L0.122,-0.552 L0.122,-0.481 L0.288,-0.581 Z" transform="translate(65.40,1054.30) scale(16.9)" fill="#000" stroke="#000" stroke-width="0.0148"/><line x1="150.9" y1="1011.9" x2="150.9" y2="1023.5" stroke="#000" stroke-width="1.7" stroke-linecap="round"/><text x="132.10" y="1054.30" font-size="16.9">20 6</text><path d="M0.288,0 L0.376,0 L0.376,-0.688 L0.308,-0.688 L0.273,-0.649 L0.122,-0.552 L0.122,-0.481 L0.288,-0.581 Z" transform="translate(150.90,1054.30) scale(16.9)" fill="#000" stroke="#000" stroke-width="0.0148"/><line x1="236.4" y1="1011.9" x2="236.4" y2="1023.5" stroke="#000" stroke-width="1.7" stroke-linecap="round"/><text x="217.60" y="1054.30" font-size="16.9">20 8</text><path d="M0.288,0 L0.376,0 L0.376,-0.688 L0.308,-0.688 L0.273,-0.649 L0.122,-0.552 L0.122,-0.481 L0.288,-0.581 Z" transform="translate(236.40,1054.30) scale(16.9)" fill="#000" stroke="#000" stroke-width="0.0148"/><line x1="321.9" y1="1011.9" x2="321.9" y2="1023.5" stroke="#000" stroke-width="1.7" stroke-linecap="round"/><text x="303.10" y="1054.30" font-size="16.9">2020</text><line x1="407.4" y1="1011.9" x2="407.4" y2="1023.5" stroke="#000" stroke-width="1.7" stroke-linecap="round"/><text x="388.60" y="1054.30" font-size="16.9">2022</text><line x1="49.2" y1="974.8" x2="60.8" y2="974.8" stroke="#000" stroke-width="1.7" stroke-linecap="round"/><text x="8.83" y="981.09" font-size="16.9">−40</text><line x1="49.2" y1="921.1" x2="60.8" y2="921.1" stroke="#000" stroke-width="1.7" stroke-linecap="round"/><text x="8.83" y="927.37" font-size="16.9">−20</text><line x1="49.2" y1="867.4" x2="60.8" y2="867.4" stroke="#000" stroke-width="1.7" stroke-linecap="round"/><text x="28.10" y="873.65" font-size="16.9">0</text><line x1="49.2" y1="813.6" x2="60.8" y2="813.6" stroke="#000" stroke-width="1.7" stroke-linecap="round"/><text x="18.70" y="819.93" font-size="16.9">20</text><line x1="49.2" y1="759.9" x2="60.8" y2="759.9" stroke="#000" stroke-width="1.7" stroke-linecap="round"/><text x="18.70" y="766.21" font-size="16.9">40</text><line x1="486.8" y1="1001.2" x2="498.4" y2="1001.2" stroke="#000" stroke-width="1.7" stroke-linecap="round"/><text x="510.40" y="1007.50" font-size="16.9">0</text><line x1="486.8" y1="911.1" x2="498.4" y2="911.1" stroke="#000" stroke-width="1.7" stroke-linecap="round"/><text x="510.40" y="917.35" font-size="16.9">5</text><line x1="486.8" y1="820.9" x2="498.4" y2="820.9" stroke="#000" stroke-width="1.7" stroke-linecap="round"/><text x="510.40" y="827.20" font-size="16.9"> 0</text><path d="M0.288,0 L0.376,0 L0.376,-0.688 L0.308,-0.688 L0.273,-0.649 L0.122,-0.552 L0.122,-0.481 L0.288,-0.581 Z" transform="translate(510.40,827.20) scale(16.9)" fill="#000" stroke="#000" stroke-width="0.0148"/><line x1="486.8" y1="730.8" x2="498.4" y2="730.8" stroke="#000" stroke-width="1.7" stroke-linecap="round"/><text x="510.40" y="737.05" font-size="16.9"> 5</text><path d="M0.288,0 L0.376,0 L0.376,-0.688 L0.308,-0.688 L0.273,-0.649 L0.122,-0.552 L0.122,-0.481 L0.288,-0.581 Z" transform="translate(510.40,737.05) scale(16.9)" fill="#000" stroke="#000" stroke-width="0.0148"/></g>
<g><path d="M599.5,793.1 L600.9,813.8 L601.7,841.3 L602.8,842.6 L603.6,835.8 L604.5,844.0 L605.5,828.9 L606.6,844.0 L607.8,833.0 L609.1,844.0 L610.5,826.1 L611.6,838.5 L612.7,853.6 L613.8,819.3 L614.9,844.0 L616.0,835.8 L617.4,817.9 L618.8,835.8 L620.1,827.5 L621.5,824.8 L622.9,833.0 L624.2,844.0 L625.6,831.6 L627.0,841.3 L628.4,834.4 L629.8,835.8 L631.1,833.0 L632.5,835.8 L633.9,831.6 L635.3,835.8 L636.6,833.0 L638.0,861.9 L639.4,813.8 L640.8,811.0 L642.1,844.0 L643.5,830.3 L644.9,838.5 L646.3,794.5 L647.6,844.0 L649.0,805.5 L650.4,841.3 L651.8,830.3 L653.1,844.0 L654.5,780.8 L655.9,875.6 L657.3,844.0 L658.6,800.0 L660.0,838.5 L661.4,844.0 L662.8,826.1 L664.1,838.5 L665.5,830.3 L666.9,860.5 L668.3,800.0 L669.6,835.8 L671.0,846.8 L672.4,830.3 L673.8,841.3 L675.1,835.8 L676.5,831.6 L677.9,838.5 L679.3,812.4 L680.6,833.0 L682.0,846.8 L683.4,838.5 L684.8,827.5 L686.1,833.0 L687.5,846.8 L688.9,890.8 L689.7,789.0 L690.8,888.0 L691.9,881.1 L693.0,844.0 L694.1,813.8 L695.2,833.0 L696.3,855.0 L697.1,888.0 L698.0,955.4 L699.1,735.4 L700.2,805.5 L701.3,833.0 L702.6,809.6 L704.0,835.8 L705.4,827.5 L706.8,844.0 L708.1,827.5 L709.5,844.0 L710.9,827.5 L712.3,844.0 L713.6,834.4 L715.0,833.0 L716.4,791.8 L717.2,900.4 L718.3,838.5 L719.7,824.8 L721.1,846.8 L722.4,835.8 L723.8,841.3 L725.2,827.5 L726.6,849.5 L727.9,842.6 L729.3,881.1 L730.7,808.3 L732.1,838.5 L733.4,819.3 L734.8,844.0 L736.2,833.0 L737.6,852.3 L738.7,879.8 L739.8,838.5 L741.1,852.3 L742.5,874.3 L743.9,846.8 L745.3,833.0 L746.6,846.8 L748.0,819.3 L749.4,813.8 L750.8,844.0 L752.1,805.5 L753.5,846.8 L754.9,787.6 L756.3,852.3 L757.6,805.5 L759.0,844.0 L760.4,801.4 L761.8,833.0 L763.1,823.4 L764.5,827.5 L765.9,841.3 L766.7,867.4 L767.8,817.9 L768.9,833.0 L770.0,824.8 L771.4,838.5 L772.8,830.3 L774.1,833.0 L775.5,824.8 L776.9,835.8 L778.3,844.0 L779.6,819.3 L781.0,827.5 L782.4,802.8 L783.8,791.8 L785.1,767.0 L786.5,805.5 L787.9,819.3 L789.3,838.5 L790.6,822.0 L792.0,838.5 L793.4,827.5 L794.8,849.5 L796.1,805.5 L797.5,791.8 L798.9,833.0 L799.0,819.3 L800.1,844.0 L801.2,827.5 L802.6,849.5 L804.0,813.8 L805.4,849.5 L806.8,833.0 L808.1,852.3 L809.5,805.5 L810.3,846.8 L811.4,827.5 L812.2,849.5 L813.6,811.0 L815.0,833.0 L816.4,822.0 L817.8,813.8 L819.1,800.0 L820.0,742.2 L820.8,819.3 L821.9,1002.1 L822.7,833.0 L823.8,855.0 L824.9,811.0 L826.0,838.5 L827.4,849.5 L828.8,827.5 L830.1,844.0 L831.0,816.5 L832.0,852.3 L833.1,838.5 L834.2,827.5 L835.6,844.0 L837.0,830.3 L838.4,841.3 L839.8,855.0 L841.1,867.4 L842.5,811.0 L843.9,835.8 L845.3,838.5 L846.6,816.5 L848.0,838.5 L849.4,841.3 L850.8,844.0 L852.1,841.3 L853.5,838.5 L854.9,833.0 L856.3,838.5 L857.6,830.3 L859.0,822.0 L860.4,833.0 L861.8,835.8 L863.1,833.0 L864.5,835.8 L865.9,824.8 L867.3,805.5 L868.6,835.8 L870.0,838.5 L871.4,833.0 L872.8,822.0 L874.1,830.3 L875.5,838.5 L876.9,833.0 L878.3,864.6 L879.6,811.0 L881.0,841.3 L882.4,827.5 L883.8,838.5 L885.1,833.0 L886.5,841.3 L887.9,824.8 L889.3,838.5 L890.6,813.8 L892.0,833.0 L893.4,761.5 L894.8,852.3 L896.1,813.8 L897.5,855.0 L898.9,875.6 L899.7,811.0 L900.8,846.8 L901.9,827.5 L903.0,838.5 L904.4,827.5 L905.8,838.5 L907.1,833.0 L908.5,844.0 L909.9,822.0 L911.3,838.5 L912.6,764.2 L914.0,833.0 L915.4,846.8 L916.8,827.5 L918.1,838.5 L919.5,833.0 L920.9,824.8 L922.3,838.5 L923.6,827.5 L925.0,835.8 L926.4,922.4 L927.8,844.0 L929.1,780.8 L930.5,819.3 L931.9,838.5 L933.3,805.5 L934.6,761.5 L936.0,861.9 L937.4,819.3 L938.8,833.0 L940.1,852.3 L941.5,824.8 L942.9,841.3 L944.3,833.0 L945.6,838.5 L947.0,813.8 L948.4,830.3 L949.8,838.5 L951.1,824.8 L952.5,835.8 L953.9,833.0 L955.3,838.5 L956.6,855.0 L958.0,806.9 L959.4,835.8 L960.8,833.0 L962.1,838.5 L963.5,827.5 L964.9,833.0 L966.3,838.5 L967.6,830.3 L969.0,822.0 L970.4,868.8 L971.8,804.1 L973.1,838.5 L974.5,833.0 L975.9,827.5 L977.3,819.3 L978.6,838.5 L980.0,844.0 L981.4,830.3 L982.8,838.5 L984.1,827.5 L985.5,838.5 L986.9,830.3 L988.3,835.8 L989.6,831.6 L991.0,834.4 L992.4,830.3 L993.8,833.0 L995.1,831.6" fill="none" stroke="#0000ff" stroke-width="2.0" stroke-linejoin="round" stroke-linecap="round"/><rect x="584.3" y="725.7" width="85.3" height="48.4" fill="#fff" stroke="#000" stroke-width="1.7"/><line x1="595.7" y1="741.8" x2="621.4" y2="741.8" stroke="#0000ff" stroke-width="1.9"/><text x="633.5" y="746.8" font-size="14.6">HBR</text><line x1="595.7" y1="758.1" x2="621.4" y2="758.1" stroke="#ff0000" stroke-width="1.9"/><text x="633.5" y="763.1" font-size="14.6">HBV</text><path d="M599.5,982.9 L600.9,980.1 L602.2,976.0 L603.6,974.6 L605.0,976.0 L607.2,974.6 L609.1,975.5 L610.5,981.5 L611.9,981.5 L613.2,977.4 L614.6,970.5 L616.0,966.4 L617.4,964.5 L618.8,965.6 L620.1,967.8 L621.5,969.1 L622.9,971.9 L624.2,977.4 L625.6,981.5 L627.0,982.9 L628.4,982.9 L629.8,980.1 L631.1,977.4 L632.5,980.1 L633.9,978.8 L635.3,976.0 L636.6,975.5 L638.0,974.6 L639.4,969.1 L640.8,965.0 L642.1,963.6 L643.5,962.8 L644.9,963.6 L646.3,966.4 L647.6,969.1 L649.0,969.1 L650.4,967.8 L651.8,966.4 L653.1,965.0 L654.5,966.4 L655.9,965.0 L657.3,963.6 L658.6,962.3 L660.0,956.8 L661.4,951.3 L662.8,949.9 L663.6,955.4 L664.7,962.3 L666.1,966.4 L667.4,969.1 L668.8,971.9 L670.5,974.6 L671.6,977.4 L673.2,980.1 L674.6,981.5 L676.5,981.5 L677.9,982.9 L678.7,978.8 L679.8,965.0 L680.6,943.0 L681.5,926.5 L682.6,910.0 L683.9,899.0 L685.3,893.5 L686.7,892.1 L688.3,894.9 L689.7,890.8 L691.1,885.3 L692.5,886.6 L693.6,893.5 L694.7,907.3 L695.8,921.0 L696.9,937.5 L698.0,943.0 L699.9,943.0 L701.8,943.0 L704.0,944.4 L705.4,943.0 L706.8,951.3 L708.1,943.0 L709.5,938.9 L710.9,943.0 L712.3,945.8 L713.6,948.5 L715.0,952.6 L717.2,954.0 L719.1,956.8 L720.5,958.1 L721.9,954.0 L723.3,951.3 L724.6,955.4 L726.0,965.0 L727.4,969.1 L728.8,973.3 L730.1,971.9 L731.5,967.8 L732.9,962.3 L734.3,952.6 L735.6,947.1 L737.0,943.0 L738.4,942.2 L739.8,943.0 L741.1,945.8 L742.5,951.3 L743.9,959.5 L745.3,967.8 L746.6,973.3 L748.0,967.8 L749.4,962.3 L750.8,959.5 L752.1,960.9 L753.5,963.6 L754.9,969.1 L756.3,973.3 L757.6,976.0 L759.0,980.1 L760.4,982.9 L761.8,985.6 L763.1,987.6 L764.5,988.4 L765.9,988.4 L767.3,987.0 L768.6,984.3 L770.0,980.1 L771.4,976.0 L772.8,970.5 L774.1,956.8 L775.5,923.8 L776.9,888.0 L778.3,855.0 L779.6,833.0 L781.0,822.0 L782.4,818.7 L783.8,817.9 L785.1,820.6 L786.5,827.5 L787.9,846.8 L789.3,874.3 L790.6,901.8 L792.0,926.5 L793.4,948.5 L794.8,959.5 L796.1,960.1 L797.5,960.9 L798.9,967.8 L799.9,971.9 L801.2,971.9 L802.6,973.3 L804.0,974.6 L805.4,974.6 L806.8,977.4 L808.1,978.2 L809.5,977.4 L810.9,956.8 L812.2,888.0 L813.1,833.0 L813.9,797.3 L815.0,795.9 L816.4,793.1 L817.8,789.0 L819.1,790.4 L820.5,797.3 L821.9,808.3 L823.2,822.0 L824.6,838.5 L826.0,849.5 L827.4,850.9 L828.2,860.5 L829.3,882.5 L830.1,903.1 L831.5,888.0 L832.9,874.3 L834.2,864.6 L835.6,871.5 L837.0,888.0 L838.4,894.9 L839.8,904.5 L841.1,915.5 L842.5,926.5 L843.9,937.5 L845.3,948.5 L846.6,956.8 L848.0,959.5 L849.4,959.0 L850.8,958.1 L852.1,958.1 L853.5,958.1 L854.9,959.5 L856.3,963.6 L857.6,973.3 L859.0,981.5 L860.4,970.5 L861.8,962.3 L863.1,959.5 L864.5,954.0 L865.9,949.9 L867.3,946.3 L868.6,944.4 L870.0,945.8 L871.4,948.5 L872.8,954.0 L874.1,965.0 L875.5,978.8 L876.9,978.8 L878.3,977.4 L879.6,976.0 L881.0,976.0 L882.4,976.6 L883.8,977.4 L885.1,965.0 L886.5,951.3 L887.9,943.0 L889.3,937.5 L890.6,934.8 L892.0,935.3 L893.4,937.5 L894.8,940.3 L896.1,944.4 L897.5,948.5 L898.9,954.0 L900.3,956.8 L901.6,959.5 L903.0,963.6 L903.8,959.5 L904.4,943.0 L905.2,888.0 L906.3,846.8 L907.1,827.5 L908.5,819.3 L909.9,816.5 L911.3,817.9 L912.6,822.0 L914.0,830.3 L915.4,844.0 L916.8,863.3 L918.1,877.0 L919.5,888.0 L920.9,879.8 L922.3,870.1 L923.6,874.3 L925.0,879.8 L926.4,881.1 L927.2,866.0 L928.3,805.5 L929.7,764.2 L931.1,745.0 L932.4,738.1 L933.8,735.4 L935.2,738.1 L936.0,750.5 L937.4,786.3 L938.8,816.5 L940.1,846.8 L941.5,877.0 L942.9,899.0 L943.7,915.5 L944.8,937.5 L945.9,956.8 L947.0,958.1 L948.4,954.0 L949.8,954.0 L951.1,952.6 L952.5,954.0 L953.9,954.0 L955.3,960.9 L956.6,959.5 L958.0,951.3 L959.4,948.5 L960.8,947.1 L962.1,948.5 L963.5,941.6 L964.9,940.3 L965.7,951.3 L966.8,948.5 L968.5,949.9 L970.4,949.9 L972.3,949.9 L974.0,951.3 L975.3,954.0 L976.7,955.4 L978.1,956.8 L979.5,962.3 L980.8,965.0 L982.2,963.6 L983.6,965.0 L985.0,965.0 L986.1,973.3 L987.2,984.3 L988.8,988.4 L990.5,988.4 L992.1,989.2 L993.8,990.3 L994.6,991.1" fill="none" stroke="#ff0000" stroke-width="2.0" stroke-linejoin="round" stroke-linecap="round"/><rect x="584.3" y="725.7" width="426.0" height="286.2" fill="none" stroke="#000" stroke-width="1.7" stroke-linejoin="round"/><line x1="588.9" y1="1011.9" x2="588.9" y2="1023.5" stroke="#000" stroke-width="1.7" stroke-linecap="round"/><text x="570.10" y="1054.30" font-size="16.9">20 4</text><path d="M0.288,0 L0.376,0 L0.376,-0.688 L0.308,-0.688 L0.273,-0.649 L0.122,-0.552 L0.122,-0.481 L0.288,-0.581 Z" transform="translate(588.90,1054.30) scale(16.9)" fill="#000" stroke="#000" stroke-width="0.0148"/><line x1="674.4" y1="1011.9" x2="674.4" y2="1023.5" stroke="#000" stroke-width="1.7" stroke-linecap="round"/><text x="655.60" y="1054.30" font-size="16.9">20 6</text><path d="M0.288,0 L0.376,0 L0.376,-0.688 L0.308,-0.688 L0.273,-0.649 L0.122,-0.552 L0.122,-0.481 L0.288,-0.581 Z" transform="translate(674.40,1054.30) scale(16.9)" fill="#000" stroke="#000" stroke-width="0.0148"/><line x1="759.9" y1="1011.9" x2="759.9" y2="1023.5" stroke="#000" stroke-width="1.7" stroke-linecap="round"/><text x="741.10" y="1054.30" font-size="16.9">20 8</text><path d="M0.288,0 L0.376,0 L0.376,-0.688 L0.308,-0.688 L0.273,-0.649 L0.122,-0.552 L0.122,-0.481 L0.288,-0.581 Z" transform="translate(759.90,1054.30) scale(16.9)" fill="#000" stroke="#000" stroke-width="0.0148"/><line x1="845.4" y1="1011.9" x2="845.4" y2="1023.5" stroke="#000" stroke-width="1.7" stroke-linecap="round"/><text x="826.60" y="1054.30" font-size="16.9">2020</text><line x1="930.9" y1="1011.9" x2="930.9" y2="1023.5" stroke="#000" stroke-width="1.7" stroke-linecap="round"/><text x="912.10" y="1054.30" font-size="16.9">2022</text><line x1="572.7" y1="968.8" x2="584.3" y2="968.8" stroke="#000" stroke-width="1.7" stroke-linecap="round"/><text x="532.33" y="975.10" font-size="16.9">−30</text><line x1="572.7" y1="923.7" x2="584.3" y2="923.7" stroke="#000" stroke-width="1.7" stroke-linecap="round"/><text x="532.33" y="930.00" font-size="16.9">−20</text><line x1="572.7" y1="878.6" x2="584.3" y2="878.6" stroke="#000" stroke-width="1.7" stroke-linecap="round"/><text x="532.33" y="884.90" font-size="16.9">− 0</text><path d="M0.288,0 L0.376,0 L0.376,-0.688 L0.308,-0.688 L0.273,-0.649 L0.122,-0.552 L0.122,-0.481 L0.288,-0.581 Z" transform="translate(542.20,884.90) scale(16.9)" fill="#000" stroke="#000" stroke-width="0.0148"/><line x1="572.7" y1="833.5" x2="584.3" y2="833.5" stroke="#000" stroke-width="1.7" stroke-linecap="round"/><text x="551.60" y="839.80" font-size="16.9">0</text><line x1="572.7" y1="788.4" x2="584.3" y2="788.4" stroke="#000" stroke-width="1.7" stroke-linecap="round"/><text x="542.20" y="794.70" font-size="16.9"> 0</text><path d="M0.288,0 L0.376,0 L0.376,-0.688 L0.308,-0.688 L0.273,-0.649 L0.122,-0.552 L0.122,-0.481 L0.288,-0.581 Z" transform="translate(542.20,794.70) scale(16.9)" fill="#000" stroke="#000" stroke-width="0.0148"/><line x1="572.7" y1="743.3" x2="584.3" y2="743.3" stroke="#000" stroke-width="1.7" stroke-linecap="round"/><text x="542.20" y="749.60" font-size="16.9">20</text><line x1="1010.3" y1="1001.0" x2="1021.9" y2="1001.0" stroke="#000" stroke-width="1.7" stroke-linecap="round"/><text x="1033.90" y="1007.30" font-size="16.9">0</text><line x1="1010.3" y1="930.6" x2="1021.9" y2="930.6" stroke="#000" stroke-width="1.7" stroke-linecap="round"/><text x="1033.90" y="936.86" font-size="16.9">2</text><line x1="1010.3" y1="860.1" x2="1021.9" y2="860.1" stroke="#000" stroke-width="1.7" stroke-linecap="round"/><text x="1033.90" y="866.42" font-size="16.9">4</text><line x1="1010.3" y1="789.7" x2="1021.9" y2="789.7" stroke="#000" stroke-width="1.7" stroke-linecap="round"/><text x="1033.90" y="795.98" font-size="16.9">6</text></g>
</svg>
</body></html>
